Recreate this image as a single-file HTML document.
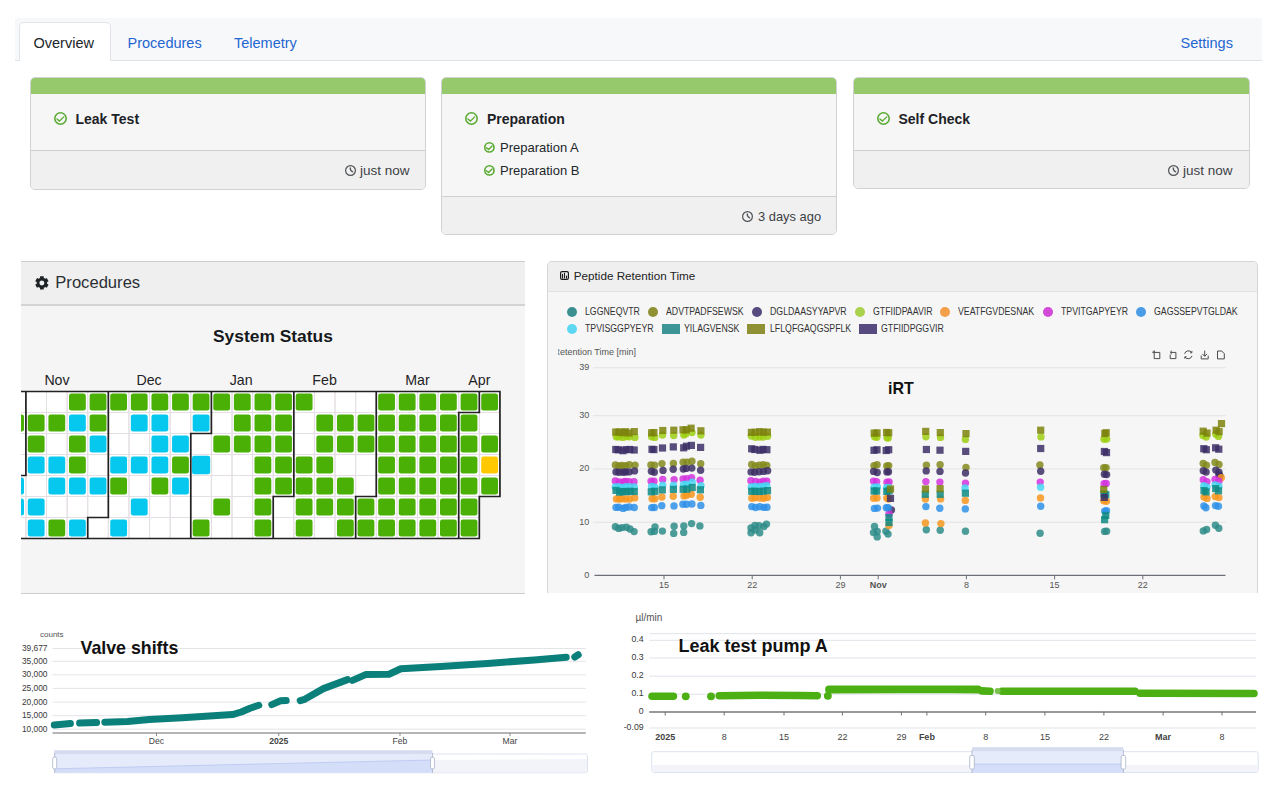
<!DOCTYPE html><html><head><meta charset="utf-8"><title>Dashboard</title><style>
*{box-sizing:border-box;margin:0;padding:0}
html,body{width:1280px;height:798px;overflow:hidden;background:#fff;font-family:"Liberation Sans",sans-serif;color:#212529}
.a{position:absolute}
.t{position:absolute;white-space:nowrap;line-height:1}
#tabs{left:15px;top:18px;width:1247px;height:43px;background:#f7f8fa;border-bottom:1px solid #dfe2e6}
#tabact{left:18.5px;top:22px;width:92px;height:39px;background:#fff;border:1px solid #e1e4e8;border-bottom:none;border-radius:5px 5px 0 0}
.tab{font-size:14.5px;color:#2366d1}
.card{position:absolute;border:1px solid #d2d2d2;border-radius:5px;background:#f6f6f6;overflow:hidden}
.card .bar{position:absolute;left:-1px;right:-1px;top:-1px;height:17px;background:#95c96c}
.card .ft{position:absolute;left:0;right:0;bottom:0;background:#f0f0f0;border-top:1px solid #cfcfcf}
.ttl{font-size:14px;font-weight:700;color:#1d2226}
.sub{font-size:13px;color:#22272b}
.tm{font-size:13.5px;color:#3d4246}
</style></head><body>
<div id="tabs" class="a"></div>
<div id="tabact" class="a"></div>
<div class="t tab" style="left:33.5px;top:35.5px;color:#212529">Overview</div>
<div class="t tab" style="left:127.5px;top:35.5px">Procedures</div>
<div class="t tab" style="left:234px;top:35.5px">Telemetry</div>
<div class="t tab" style="left:1180.5px;top:35.5px">Settings</div>
<div class="card" style="left:30px;top:77px;width:396px;height:113px"><div class="bar"></div><div class="ft" style="top:72px"></div></div>
<div class="card" style="left:441px;top:77px;width:396px;height:158px"><div class="bar"></div><div class="ft" style="top:117.5px"></div></div>
<div class="card" style="left:852.5px;top:77px;width:397px;height:112px"><div class="bar"></div><div class="ft" style="top:72px"></div></div>
<svg class="a" style="left:52.8px;top:111.0px" width="15.0" height="15.0" viewBox="-7.5 -7.5 15.0 15.0"><circle cx="0" cy="0" r="5.7" fill="none" stroke="#5aab33" stroke-width="1.6"/><path d="M-3.58 0.52 L-0.97 2.60 L3.25 -1.62" fill="none" stroke="#5aab33" stroke-width="1.36" stroke-linecap="round" stroke-linejoin="round"/></svg>
<div class="t ttl" style="left:75.5px;top:112px">Leak Test</div>
<svg class="a" style="left:343.8px;top:164.3px" width="13.0" height="13.0" viewBox="-6.5 -6.5 13.0 13.0"><circle cx="0" cy="0" r="4.9" fill="none" stroke="#505356" stroke-width="1.2"/><path d="M-0.28 -2.64 Q-0.28 0.66 2.20 1.38" fill="none" stroke="#505356" stroke-width="1.26" stroke-linecap="round"/></svg>
<div class="t tm" style="left:360px;top:164px">just now</div>
<svg class="a" style="left:464.0px;top:111.0px" width="15.0" height="15.0" viewBox="-7.5 -7.5 15.0 15.0"><circle cx="0" cy="0" r="5.7" fill="none" stroke="#5aab33" stroke-width="1.6"/><path d="M-3.58 0.52 L-0.97 2.60 L3.25 -1.62" fill="none" stroke="#5aab33" stroke-width="1.36" stroke-linecap="round" stroke-linejoin="round"/></svg>
<div class="t ttl" style="left:487px;top:112px">Preparation</div>
<svg class="a" style="left:483.20000000000005px;top:140.6px" width="12.8" height="12.8" viewBox="-6.4 -6.4 12.8 12.8"><circle cx="0" cy="0" r="4.6000000000000005" fill="none" stroke="#5aab33" stroke-width="1.6"/><path d="M-2.97 0.43 L-0.81 2.16 L2.70 -1.35" fill="none" stroke="#5aab33" stroke-width="1.36" stroke-linecap="round" stroke-linejoin="round"/></svg>
<div class="t sub" style="left:500px;top:140.5px">Preparation A</div>
<svg class="a" style="left:483.20000000000005px;top:163.6px" width="12.8" height="12.8" viewBox="-6.4 -6.4 12.8 12.8"><circle cx="0" cy="0" r="4.6000000000000005" fill="none" stroke="#5aab33" stroke-width="1.6"/><path d="M-2.97 0.43 L-0.81 2.16 L2.70 -1.35" fill="none" stroke="#5aab33" stroke-width="1.36" stroke-linecap="round" stroke-linejoin="round"/></svg>
<div class="t sub" style="left:500px;top:163.5px">Preparation B</div>
<svg class="a" style="left:741.1px;top:209.8px" width="13.0" height="13.0" viewBox="-6.5 -6.5 13.0 13.0"><circle cx="0" cy="0" r="4.9" fill="none" stroke="#505356" stroke-width="1.2"/><path d="M-0.28 -2.64 Q-0.28 0.66 2.20 1.38" fill="none" stroke="#505356" stroke-width="1.26" stroke-linecap="round"/></svg>
<div class="t tm" style="left:758px;top:209.5px;transform:scaleX(0.955);transform-origin:0 0">3 days ago</div>
<svg class="a" style="left:875.8px;top:111.0px" width="15.0" height="15.0" viewBox="-7.5 -7.5 15.0 15.0"><circle cx="0" cy="0" r="5.7" fill="none" stroke="#5aab33" stroke-width="1.6"/><path d="M-3.58 0.52 L-0.97 2.60 L3.25 -1.62" fill="none" stroke="#5aab33" stroke-width="1.36" stroke-linecap="round" stroke-linejoin="round"/></svg>
<div class="t ttl" style="left:898.5px;top:112px">Self Check</div>
<svg class="a" style="left:1166.5px;top:164.3px" width="13.0" height="13.0" viewBox="-6.5 -6.5 13.0 13.0"><circle cx="0" cy="0" r="4.9" fill="none" stroke="#505356" stroke-width="1.2"/><path d="M-0.28 -2.64 Q-0.28 0.66 2.20 1.38" fill="none" stroke="#505356" stroke-width="1.26" stroke-linecap="round"/></svg>
<div class="t tm" style="left:1183px;top:164px">just now</div>
<div class="a" style="left:21px;top:261px;width:504px;height:333px;background:#f5f5f5;border-top:1px solid #cdcdcd;border-bottom:1px solid #cdcdcd"></div>
<div class="a" style="left:21px;top:262px;width:504px;height:44px;background:#efefef;border-bottom:2px solid #d3d3d3"></div>
<svg class="a" style="left:33.7px;top:274.90000000000003px" width="15.8" height="15.8" viewBox="-7.9 -7.9 15.8 15.8"><path fill-rule="evenodd" fill="#1e2226" d="M-1.85 -4.91 L-1.84 -6.65 L1.84 -6.65 L1.85 -4.91 L2.24 -4.74 L2.62 -4.54 L2.98 -4.31 L3.33 -4.05 L4.84 -4.92 L6.68 -1.73 L5.17 -0.85 L5.23 -0.43 L5.24 -0.00 L5.23 0.43 L5.17 0.85 L6.68 1.73 L4.84 4.92 L3.33 4.05 L2.98 4.31 L2.62 4.54 L2.24 4.74 L1.85 4.91 L1.84 6.65 L-1.84 6.65 L-1.85 4.91 L-2.24 4.74 L-2.62 4.54 L-2.98 4.31 L-3.33 4.05 L-4.84 4.92 L-6.68 1.73 L-5.17 0.85 L-5.23 0.43 L-5.24 0.00 L-5.23 -0.43 L-5.17 -0.85 L-6.68 -1.73 L-4.84 -4.92 L-3.33 -4.05 L-2.98 -4.31 L-2.62 -4.54 L-2.24 -4.74Z M2.5 0 A2.5 2.5 0 1 0 -2.5 0 A2.5 2.5 0 1 0 2.5 0Z"/></svg>
<div class="t" style="left:55.3px;top:275px;font-size:16.6px;color:#2a2f34">Procedures</div>
<div class="t" style="left:213px;top:327.5px;font-size:17.4px;font-weight:700;color:#16191c">System Status</div>
<div class="t" style="left:37px;width:40px;text-align:center;top:372.5px;font-size:14.2px;color:#1f2326">Nov</div>
<div class="t" style="left:129.1px;width:40px;text-align:center;top:372.5px;font-size:14.2px;color:#1f2326">Dec</div>
<div class="t" style="left:221.2px;width:40px;text-align:center;top:372.5px;font-size:14.2px;color:#1f2326">Jan</div>
<div class="t" style="left:304.6px;width:40px;text-align:center;top:372.5px;font-size:14.2px;color:#1f2326">Feb</div>
<div class="t" style="left:397.5px;width:40px;text-align:center;top:372.5px;font-size:14.2px;color:#1f2326">Mar</div>
<div class="t" style="left:459.4px;width:40px;text-align:center;top:372.5px;font-size:14.2px;color:#1f2326">Apr</div>
<svg class="a" style="left:21px;top:385px" width="504" height="160" viewBox="21 385 504 160"><rect x="5.29" y="391.50" width="20.61" height="21.00" fill="#fff"/><rect x="5.29" y="412.50" width="20.61" height="21.00" fill="#fff"/><rect x="5.29" y="433.50" width="20.61" height="21.00" fill="#fff"/><rect x="5.29" y="454.50" width="20.61" height="21.00" fill="#fff"/><rect x="5.29" y="475.50" width="20.61" height="21.00" fill="#fff"/><rect x="5.29" y="496.50" width="20.61" height="21.00" fill="#fff"/><rect x="5.29" y="517.50" width="20.61" height="21.00" fill="#fff"/><rect x="25.90" y="391.50" width="20.61" height="21.00" fill="#fff"/><rect x="25.90" y="412.50" width="20.61" height="21.00" fill="#fff"/><rect x="25.90" y="433.50" width="20.61" height="21.00" fill="#fff"/><rect x="25.90" y="454.50" width="20.61" height="21.00" fill="#fff"/><rect x="25.90" y="475.50" width="20.61" height="21.00" fill="#fff"/><rect x="25.90" y="496.50" width="20.61" height="21.00" fill="#fff"/><rect x="25.90" y="517.50" width="20.61" height="21.00" fill="#fff"/><rect x="46.51" y="391.50" width="20.61" height="21.00" fill="#fff"/><rect x="46.51" y="412.50" width="20.61" height="21.00" fill="#fff"/><rect x="46.51" y="433.50" width="20.61" height="21.00" fill="#fff"/><rect x="46.51" y="454.50" width="20.61" height="21.00" fill="#fff"/><rect x="46.51" y="475.50" width="20.61" height="21.00" fill="#fff"/><rect x="46.51" y="496.50" width="20.61" height="21.00" fill="#fff"/><rect x="46.51" y="517.50" width="20.61" height="21.00" fill="#fff"/><rect x="67.12" y="391.50" width="20.61" height="21.00" fill="#fff"/><rect x="67.12" y="412.50" width="20.61" height="21.00" fill="#fff"/><rect x="67.12" y="433.50" width="20.61" height="21.00" fill="#fff"/><rect x="67.12" y="454.50" width="20.61" height="21.00" fill="#fff"/><rect x="67.12" y="475.50" width="20.61" height="21.00" fill="#fff"/><rect x="67.12" y="496.50" width="20.61" height="21.00" fill="#fff"/><rect x="67.12" y="517.50" width="20.61" height="21.00" fill="#fff"/><rect x="87.73" y="391.50" width="20.61" height="21.00" fill="#fff"/><rect x="87.73" y="412.50" width="20.61" height="21.00" fill="#fff"/><rect x="87.73" y="433.50" width="20.61" height="21.00" fill="#fff"/><rect x="87.73" y="454.50" width="20.61" height="21.00" fill="#fff"/><rect x="87.73" y="475.50" width="20.61" height="21.00" fill="#fff"/><rect x="87.73" y="496.50" width="20.61" height="21.00" fill="#fff"/><rect x="87.73" y="517.50" width="20.61" height="21.00" fill="#fff"/><rect x="108.34" y="391.50" width="20.61" height="21.00" fill="#fff"/><rect x="108.34" y="412.50" width="20.61" height="21.00" fill="#fff"/><rect x="108.34" y="433.50" width="20.61" height="21.00" fill="#fff"/><rect x="108.34" y="454.50" width="20.61" height="21.00" fill="#fff"/><rect x="108.34" y="475.50" width="20.61" height="21.00" fill="#fff"/><rect x="108.34" y="496.50" width="20.61" height="21.00" fill="#fff"/><rect x="108.34" y="517.50" width="20.61" height="21.00" fill="#fff"/><rect x="128.95" y="391.50" width="20.61" height="21.00" fill="#fff"/><rect x="128.95" y="412.50" width="20.61" height="21.00" fill="#fff"/><rect x="128.95" y="433.50" width="20.61" height="21.00" fill="#fff"/><rect x="128.95" y="454.50" width="20.61" height="21.00" fill="#fff"/><rect x="128.95" y="475.50" width="20.61" height="21.00" fill="#fff"/><rect x="128.95" y="496.50" width="20.61" height="21.00" fill="#fff"/><rect x="128.95" y="517.50" width="20.61" height="21.00" fill="#fff"/><rect x="149.56" y="391.50" width="20.61" height="21.00" fill="#fff"/><rect x="149.56" y="412.50" width="20.61" height="21.00" fill="#fff"/><rect x="149.56" y="433.50" width="20.61" height="21.00" fill="#fff"/><rect x="149.56" y="454.50" width="20.61" height="21.00" fill="#fff"/><rect x="149.56" y="475.50" width="20.61" height="21.00" fill="#fff"/><rect x="149.56" y="496.50" width="20.61" height="21.00" fill="#fff"/><rect x="149.56" y="517.50" width="20.61" height="21.00" fill="#fff"/><rect x="170.17" y="391.50" width="20.61" height="21.00" fill="#fff"/><rect x="170.17" y="412.50" width="20.61" height="21.00" fill="#fff"/><rect x="170.17" y="433.50" width="20.61" height="21.00" fill="#fff"/><rect x="170.17" y="454.50" width="20.61" height="21.00" fill="#fff"/><rect x="170.17" y="475.50" width="20.61" height="21.00" fill="#fff"/><rect x="170.17" y="496.50" width="20.61" height="21.00" fill="#fff"/><rect x="170.17" y="517.50" width="20.61" height="21.00" fill="#fff"/><rect x="190.78" y="391.50" width="20.61" height="21.00" fill="#fff"/><rect x="190.78" y="412.50" width="20.61" height="21.00" fill="#fff"/><rect x="190.78" y="433.50" width="20.61" height="21.00" fill="#fff"/><rect x="190.78" y="454.50" width="20.61" height="21.00" fill="#fff"/><rect x="190.78" y="475.50" width="20.61" height="21.00" fill="#fff"/><rect x="190.78" y="496.50" width="20.61" height="21.00" fill="#fff"/><rect x="190.78" y="517.50" width="20.61" height="21.00" fill="#fff"/><rect x="211.39" y="391.50" width="20.61" height="21.00" fill="#fff"/><rect x="211.39" y="412.50" width="20.61" height="21.00" fill="#fff"/><rect x="211.39" y="433.50" width="20.61" height="21.00" fill="#fff"/><rect x="211.39" y="454.50" width="20.61" height="21.00" fill="#fff"/><rect x="211.39" y="475.50" width="20.61" height="21.00" fill="#fff"/><rect x="211.39" y="496.50" width="20.61" height="21.00" fill="#fff"/><rect x="211.39" y="517.50" width="20.61" height="21.00" fill="#fff"/><rect x="232.00" y="391.50" width="20.61" height="21.00" fill="#fff"/><rect x="232.00" y="412.50" width="20.61" height="21.00" fill="#fff"/><rect x="232.00" y="433.50" width="20.61" height="21.00" fill="#fff"/><rect x="232.00" y="454.50" width="20.61" height="21.00" fill="#fff"/><rect x="232.00" y="475.50" width="20.61" height="21.00" fill="#fff"/><rect x="232.00" y="496.50" width="20.61" height="21.00" fill="#fff"/><rect x="232.00" y="517.50" width="20.61" height="21.00" fill="#fff"/><rect x="252.61" y="391.50" width="20.61" height="21.00" fill="#fff"/><rect x="252.61" y="412.50" width="20.61" height="21.00" fill="#fff"/><rect x="252.61" y="433.50" width="20.61" height="21.00" fill="#fff"/><rect x="252.61" y="454.50" width="20.61" height="21.00" fill="#fff"/><rect x="252.61" y="475.50" width="20.61" height="21.00" fill="#fff"/><rect x="252.61" y="496.50" width="20.61" height="21.00" fill="#fff"/><rect x="252.61" y="517.50" width="20.61" height="21.00" fill="#fff"/><rect x="273.22" y="391.50" width="20.61" height="21.00" fill="#fff"/><rect x="273.22" y="412.50" width="20.61" height="21.00" fill="#fff"/><rect x="273.22" y="433.50" width="20.61" height="21.00" fill="#fff"/><rect x="273.22" y="454.50" width="20.61" height="21.00" fill="#fff"/><rect x="273.22" y="475.50" width="20.61" height="21.00" fill="#fff"/><rect x="273.22" y="496.50" width="20.61" height="21.00" fill="#fff"/><rect x="273.22" y="517.50" width="20.61" height="21.00" fill="#fff"/><rect x="293.83" y="391.50" width="20.61" height="21.00" fill="#fff"/><rect x="293.83" y="412.50" width="20.61" height="21.00" fill="#fff"/><rect x="293.83" y="433.50" width="20.61" height="21.00" fill="#fff"/><rect x="293.83" y="454.50" width="20.61" height="21.00" fill="#fff"/><rect x="293.83" y="475.50" width="20.61" height="21.00" fill="#fff"/><rect x="293.83" y="496.50" width="20.61" height="21.00" fill="#fff"/><rect x="293.83" y="517.50" width="20.61" height="21.00" fill="#fff"/><rect x="314.44" y="391.50" width="20.61" height="21.00" fill="#fff"/><rect x="314.44" y="412.50" width="20.61" height="21.00" fill="#fff"/><rect x="314.44" y="433.50" width="20.61" height="21.00" fill="#fff"/><rect x="314.44" y="454.50" width="20.61" height="21.00" fill="#fff"/><rect x="314.44" y="475.50" width="20.61" height="21.00" fill="#fff"/><rect x="314.44" y="496.50" width="20.61" height="21.00" fill="#fff"/><rect x="314.44" y="517.50" width="20.61" height="21.00" fill="#fff"/><rect x="335.05" y="391.50" width="20.61" height="21.00" fill="#fff"/><rect x="335.05" y="412.50" width="20.61" height="21.00" fill="#fff"/><rect x="335.05" y="433.50" width="20.61" height="21.00" fill="#fff"/><rect x="335.05" y="454.50" width="20.61" height="21.00" fill="#fff"/><rect x="335.05" y="475.50" width="20.61" height="21.00" fill="#fff"/><rect x="335.05" y="496.50" width="20.61" height="21.00" fill="#fff"/><rect x="335.05" y="517.50" width="20.61" height="21.00" fill="#fff"/><rect x="355.66" y="391.50" width="20.61" height="21.00" fill="#fff"/><rect x="355.66" y="412.50" width="20.61" height="21.00" fill="#fff"/><rect x="355.66" y="433.50" width="20.61" height="21.00" fill="#fff"/><rect x="355.66" y="454.50" width="20.61" height="21.00" fill="#fff"/><rect x="355.66" y="475.50" width="20.61" height="21.00" fill="#fff"/><rect x="355.66" y="496.50" width="20.61" height="21.00" fill="#fff"/><rect x="355.66" y="517.50" width="20.61" height="21.00" fill="#fff"/><rect x="376.27" y="391.50" width="20.61" height="21.00" fill="#fff"/><rect x="376.27" y="412.50" width="20.61" height="21.00" fill="#fff"/><rect x="376.27" y="433.50" width="20.61" height="21.00" fill="#fff"/><rect x="376.27" y="454.50" width="20.61" height="21.00" fill="#fff"/><rect x="376.27" y="475.50" width="20.61" height="21.00" fill="#fff"/><rect x="376.27" y="496.50" width="20.61" height="21.00" fill="#fff"/><rect x="376.27" y="517.50" width="20.61" height="21.00" fill="#fff"/><rect x="396.88" y="391.50" width="20.61" height="21.00" fill="#fff"/><rect x="396.88" y="412.50" width="20.61" height="21.00" fill="#fff"/><rect x="396.88" y="433.50" width="20.61" height="21.00" fill="#fff"/><rect x="396.88" y="454.50" width="20.61" height="21.00" fill="#fff"/><rect x="396.88" y="475.50" width="20.61" height="21.00" fill="#fff"/><rect x="396.88" y="496.50" width="20.61" height="21.00" fill="#fff"/><rect x="396.88" y="517.50" width="20.61" height="21.00" fill="#fff"/><rect x="417.49" y="391.50" width="20.61" height="21.00" fill="#fff"/><rect x="417.49" y="412.50" width="20.61" height="21.00" fill="#fff"/><rect x="417.49" y="433.50" width="20.61" height="21.00" fill="#fff"/><rect x="417.49" y="454.50" width="20.61" height="21.00" fill="#fff"/><rect x="417.49" y="475.50" width="20.61" height="21.00" fill="#fff"/><rect x="417.49" y="496.50" width="20.61" height="21.00" fill="#fff"/><rect x="417.49" y="517.50" width="20.61" height="21.00" fill="#fff"/><rect x="438.10" y="391.50" width="20.61" height="21.00" fill="#fff"/><rect x="438.10" y="412.50" width="20.61" height="21.00" fill="#fff"/><rect x="438.10" y="433.50" width="20.61" height="21.00" fill="#fff"/><rect x="438.10" y="454.50" width="20.61" height="21.00" fill="#fff"/><rect x="438.10" y="475.50" width="20.61" height="21.00" fill="#fff"/><rect x="438.10" y="496.50" width="20.61" height="21.00" fill="#fff"/><rect x="438.10" y="517.50" width="20.61" height="21.00" fill="#fff"/><rect x="458.71" y="391.50" width="20.61" height="21.00" fill="#fff"/><rect x="458.71" y="412.50" width="20.61" height="21.00" fill="#fff"/><rect x="458.71" y="433.50" width="20.61" height="21.00" fill="#fff"/><rect x="458.71" y="454.50" width="20.61" height="21.00" fill="#fff"/><rect x="458.71" y="475.50" width="20.61" height="21.00" fill="#fff"/><rect x="458.71" y="496.50" width="20.61" height="21.00" fill="#fff"/><rect x="458.71" y="517.50" width="20.61" height="21.00" fill="#fff"/><rect x="479.32" y="391.50" width="20.61" height="21.00" fill="#fff"/><rect x="479.32" y="412.50" width="20.61" height="21.00" fill="#fff"/><rect x="479.32" y="433.50" width="20.61" height="21.00" fill="#fff"/><rect x="479.32" y="454.50" width="20.61" height="21.00" fill="#fff"/><rect x="479.32" y="475.50" width="20.61" height="21.00" fill="#fff"/><rect x="5.29" y="391.50" width="20.61" height="21.00" fill="none" stroke="#e4dfe4" stroke-width="1"/><rect x="5.29" y="412.50" width="20.61" height="21.00" fill="none" stroke="#e4dfe4" stroke-width="1"/><rect x="5.29" y="433.50" width="20.61" height="21.00" fill="none" stroke="#e4dfe4" stroke-width="1"/><rect x="5.29" y="454.50" width="20.61" height="21.00" fill="none" stroke="#e4dfe4" stroke-width="1"/><rect x="5.29" y="475.50" width="20.61" height="21.00" fill="none" stroke="#e4dfe4" stroke-width="1"/><rect x="5.29" y="496.50" width="20.61" height="21.00" fill="none" stroke="#e4dfe4" stroke-width="1"/><rect x="5.29" y="517.50" width="20.61" height="21.00" fill="none" stroke="#e4dfe4" stroke-width="1"/><rect x="25.90" y="391.50" width="20.61" height="21.00" fill="none" stroke="#e4dfe4" stroke-width="1"/><rect x="25.90" y="412.50" width="20.61" height="21.00" fill="none" stroke="#e4dfe4" stroke-width="1"/><rect x="25.90" y="433.50" width="20.61" height="21.00" fill="none" stroke="#e4dfe4" stroke-width="1"/><rect x="25.90" y="454.50" width="20.61" height="21.00" fill="none" stroke="#e4dfe4" stroke-width="1"/><rect x="25.90" y="475.50" width="20.61" height="21.00" fill="none" stroke="#e4dfe4" stroke-width="1"/><rect x="25.90" y="496.50" width="20.61" height="21.00" fill="none" stroke="#e4dfe4" stroke-width="1"/><rect x="25.90" y="517.50" width="20.61" height="21.00" fill="none" stroke="#e4dfe4" stroke-width="1"/><rect x="46.51" y="391.50" width="20.61" height="21.00" fill="none" stroke="#e4dfe4" stroke-width="1"/><rect x="46.51" y="412.50" width="20.61" height="21.00" fill="none" stroke="#e4dfe4" stroke-width="1"/><rect x="46.51" y="433.50" width="20.61" height="21.00" fill="none" stroke="#e4dfe4" stroke-width="1"/><rect x="46.51" y="454.50" width="20.61" height="21.00" fill="none" stroke="#e4dfe4" stroke-width="1"/><rect x="46.51" y="475.50" width="20.61" height="21.00" fill="none" stroke="#e4dfe4" stroke-width="1"/><rect x="46.51" y="496.50" width="20.61" height="21.00" fill="none" stroke="#e4dfe4" stroke-width="1"/><rect x="46.51" y="517.50" width="20.61" height="21.00" fill="none" stroke="#e4dfe4" stroke-width="1"/><rect x="67.12" y="391.50" width="20.61" height="21.00" fill="none" stroke="#e4dfe4" stroke-width="1"/><rect x="67.12" y="412.50" width="20.61" height="21.00" fill="none" stroke="#e4dfe4" stroke-width="1"/><rect x="67.12" y="433.50" width="20.61" height="21.00" fill="none" stroke="#e4dfe4" stroke-width="1"/><rect x="67.12" y="454.50" width="20.61" height="21.00" fill="none" stroke="#e4dfe4" stroke-width="1"/><rect x="67.12" y="475.50" width="20.61" height="21.00" fill="none" stroke="#e4dfe4" stroke-width="1"/><rect x="67.12" y="496.50" width="20.61" height="21.00" fill="none" stroke="#e4dfe4" stroke-width="1"/><rect x="67.12" y="517.50" width="20.61" height="21.00" fill="none" stroke="#e4dfe4" stroke-width="1"/><rect x="87.73" y="391.50" width="20.61" height="21.00" fill="none" stroke="#e4dfe4" stroke-width="1"/><rect x="87.73" y="412.50" width="20.61" height="21.00" fill="none" stroke="#e4dfe4" stroke-width="1"/><rect x="87.73" y="433.50" width="20.61" height="21.00" fill="none" stroke="#e4dfe4" stroke-width="1"/><rect x="87.73" y="454.50" width="20.61" height="21.00" fill="none" stroke="#e4dfe4" stroke-width="1"/><rect x="87.73" y="475.50" width="20.61" height="21.00" fill="none" stroke="#e4dfe4" stroke-width="1"/><rect x="87.73" y="496.50" width="20.61" height="21.00" fill="none" stroke="#e4dfe4" stroke-width="1"/><rect x="87.73" y="517.50" width="20.61" height="21.00" fill="none" stroke="#e4dfe4" stroke-width="1"/><rect x="108.34" y="391.50" width="20.61" height="21.00" fill="none" stroke="#e4dfe4" stroke-width="1"/><rect x="108.34" y="412.50" width="20.61" height="21.00" fill="none" stroke="#e4dfe4" stroke-width="1"/><rect x="108.34" y="433.50" width="20.61" height="21.00" fill="none" stroke="#e4dfe4" stroke-width="1"/><rect x="108.34" y="454.50" width="20.61" height="21.00" fill="none" stroke="#e4dfe4" stroke-width="1"/><rect x="108.34" y="475.50" width="20.61" height="21.00" fill="none" stroke="#e4dfe4" stroke-width="1"/><rect x="108.34" y="496.50" width="20.61" height="21.00" fill="none" stroke="#e4dfe4" stroke-width="1"/><rect x="108.34" y="517.50" width="20.61" height="21.00" fill="none" stroke="#e4dfe4" stroke-width="1"/><rect x="128.95" y="391.50" width="20.61" height="21.00" fill="none" stroke="#e4dfe4" stroke-width="1"/><rect x="128.95" y="412.50" width="20.61" height="21.00" fill="none" stroke="#e4dfe4" stroke-width="1"/><rect x="128.95" y="433.50" width="20.61" height="21.00" fill="none" stroke="#e4dfe4" stroke-width="1"/><rect x="128.95" y="454.50" width="20.61" height="21.00" fill="none" stroke="#e4dfe4" stroke-width="1"/><rect x="128.95" y="475.50" width="20.61" height="21.00" fill="none" stroke="#e4dfe4" stroke-width="1"/><rect x="128.95" y="496.50" width="20.61" height="21.00" fill="none" stroke="#e4dfe4" stroke-width="1"/><rect x="128.95" y="517.50" width="20.61" height="21.00" fill="none" stroke="#e4dfe4" stroke-width="1"/><rect x="149.56" y="391.50" width="20.61" height="21.00" fill="none" stroke="#e4dfe4" stroke-width="1"/><rect x="149.56" y="412.50" width="20.61" height="21.00" fill="none" stroke="#e4dfe4" stroke-width="1"/><rect x="149.56" y="433.50" width="20.61" height="21.00" fill="none" stroke="#e4dfe4" stroke-width="1"/><rect x="149.56" y="454.50" width="20.61" height="21.00" fill="none" stroke="#e4dfe4" stroke-width="1"/><rect x="149.56" y="475.50" width="20.61" height="21.00" fill="none" stroke="#e4dfe4" stroke-width="1"/><rect x="149.56" y="496.50" width="20.61" height="21.00" fill="none" stroke="#e4dfe4" stroke-width="1"/><rect x="149.56" y="517.50" width="20.61" height="21.00" fill="none" stroke="#e4dfe4" stroke-width="1"/><rect x="170.17" y="391.50" width="20.61" height="21.00" fill="none" stroke="#e4dfe4" stroke-width="1"/><rect x="170.17" y="412.50" width="20.61" height="21.00" fill="none" stroke="#e4dfe4" stroke-width="1"/><rect x="170.17" y="433.50" width="20.61" height="21.00" fill="none" stroke="#e4dfe4" stroke-width="1"/><rect x="170.17" y="454.50" width="20.61" height="21.00" fill="none" stroke="#e4dfe4" stroke-width="1"/><rect x="170.17" y="475.50" width="20.61" height="21.00" fill="none" stroke="#e4dfe4" stroke-width="1"/><rect x="170.17" y="496.50" width="20.61" height="21.00" fill="none" stroke="#e4dfe4" stroke-width="1"/><rect x="170.17" y="517.50" width="20.61" height="21.00" fill="none" stroke="#e4dfe4" stroke-width="1"/><rect x="190.78" y="391.50" width="20.61" height="21.00" fill="none" stroke="#e4dfe4" stroke-width="1"/><rect x="190.78" y="412.50" width="20.61" height="21.00" fill="none" stroke="#e4dfe4" stroke-width="1"/><rect x="190.78" y="433.50" width="20.61" height="21.00" fill="none" stroke="#e4dfe4" stroke-width="1"/><rect x="190.78" y="454.50" width="20.61" height="21.00" fill="none" stroke="#e4dfe4" stroke-width="1"/><rect x="190.78" y="475.50" width="20.61" height="21.00" fill="none" stroke="#e4dfe4" stroke-width="1"/><rect x="190.78" y="496.50" width="20.61" height="21.00" fill="none" stroke="#e4dfe4" stroke-width="1"/><rect x="190.78" y="517.50" width="20.61" height="21.00" fill="none" stroke="#e4dfe4" stroke-width="1"/><rect x="211.39" y="391.50" width="20.61" height="21.00" fill="none" stroke="#e4dfe4" stroke-width="1"/><rect x="211.39" y="412.50" width="20.61" height="21.00" fill="none" stroke="#e4dfe4" stroke-width="1"/><rect x="211.39" y="433.50" width="20.61" height="21.00" fill="none" stroke="#e4dfe4" stroke-width="1"/><rect x="211.39" y="454.50" width="20.61" height="21.00" fill="none" stroke="#e4dfe4" stroke-width="1"/><rect x="211.39" y="475.50" width="20.61" height="21.00" fill="none" stroke="#e4dfe4" stroke-width="1"/><rect x="211.39" y="496.50" width="20.61" height="21.00" fill="none" stroke="#e4dfe4" stroke-width="1"/><rect x="211.39" y="517.50" width="20.61" height="21.00" fill="none" stroke="#e4dfe4" stroke-width="1"/><rect x="232.00" y="391.50" width="20.61" height="21.00" fill="none" stroke="#e4dfe4" stroke-width="1"/><rect x="232.00" y="412.50" width="20.61" height="21.00" fill="none" stroke="#e4dfe4" stroke-width="1"/><rect x="232.00" y="433.50" width="20.61" height="21.00" fill="none" stroke="#e4dfe4" stroke-width="1"/><rect x="232.00" y="454.50" width="20.61" height="21.00" fill="none" stroke="#e4dfe4" stroke-width="1"/><rect x="232.00" y="475.50" width="20.61" height="21.00" fill="none" stroke="#e4dfe4" stroke-width="1"/><rect x="232.00" y="496.50" width="20.61" height="21.00" fill="none" stroke="#e4dfe4" stroke-width="1"/><rect x="232.00" y="517.50" width="20.61" height="21.00" fill="none" stroke="#e4dfe4" stroke-width="1"/><rect x="252.61" y="391.50" width="20.61" height="21.00" fill="none" stroke="#e4dfe4" stroke-width="1"/><rect x="252.61" y="412.50" width="20.61" height="21.00" fill="none" stroke="#e4dfe4" stroke-width="1"/><rect x="252.61" y="433.50" width="20.61" height="21.00" fill="none" stroke="#e4dfe4" stroke-width="1"/><rect x="252.61" y="454.50" width="20.61" height="21.00" fill="none" stroke="#e4dfe4" stroke-width="1"/><rect x="252.61" y="475.50" width="20.61" height="21.00" fill="none" stroke="#e4dfe4" stroke-width="1"/><rect x="252.61" y="496.50" width="20.61" height="21.00" fill="none" stroke="#e4dfe4" stroke-width="1"/><rect x="252.61" y="517.50" width="20.61" height="21.00" fill="none" stroke="#e4dfe4" stroke-width="1"/><rect x="273.22" y="391.50" width="20.61" height="21.00" fill="none" stroke="#e4dfe4" stroke-width="1"/><rect x="273.22" y="412.50" width="20.61" height="21.00" fill="none" stroke="#e4dfe4" stroke-width="1"/><rect x="273.22" y="433.50" width="20.61" height="21.00" fill="none" stroke="#e4dfe4" stroke-width="1"/><rect x="273.22" y="454.50" width="20.61" height="21.00" fill="none" stroke="#e4dfe4" stroke-width="1"/><rect x="273.22" y="475.50" width="20.61" height="21.00" fill="none" stroke="#e4dfe4" stroke-width="1"/><rect x="273.22" y="496.50" width="20.61" height="21.00" fill="none" stroke="#e4dfe4" stroke-width="1"/><rect x="273.22" y="517.50" width="20.61" height="21.00" fill="none" stroke="#e4dfe4" stroke-width="1"/><rect x="293.83" y="391.50" width="20.61" height="21.00" fill="none" stroke="#e4dfe4" stroke-width="1"/><rect x="293.83" y="412.50" width="20.61" height="21.00" fill="none" stroke="#e4dfe4" stroke-width="1"/><rect x="293.83" y="433.50" width="20.61" height="21.00" fill="none" stroke="#e4dfe4" stroke-width="1"/><rect x="293.83" y="454.50" width="20.61" height="21.00" fill="none" stroke="#e4dfe4" stroke-width="1"/><rect x="293.83" y="475.50" width="20.61" height="21.00" fill="none" stroke="#e4dfe4" stroke-width="1"/><rect x="293.83" y="496.50" width="20.61" height="21.00" fill="none" stroke="#e4dfe4" stroke-width="1"/><rect x="293.83" y="517.50" width="20.61" height="21.00" fill="none" stroke="#e4dfe4" stroke-width="1"/><rect x="314.44" y="391.50" width="20.61" height="21.00" fill="none" stroke="#e4dfe4" stroke-width="1"/><rect x="314.44" y="412.50" width="20.61" height="21.00" fill="none" stroke="#e4dfe4" stroke-width="1"/><rect x="314.44" y="433.50" width="20.61" height="21.00" fill="none" stroke="#e4dfe4" stroke-width="1"/><rect x="314.44" y="454.50" width="20.61" height="21.00" fill="none" stroke="#e4dfe4" stroke-width="1"/><rect x="314.44" y="475.50" width="20.61" height="21.00" fill="none" stroke="#e4dfe4" stroke-width="1"/><rect x="314.44" y="496.50" width="20.61" height="21.00" fill="none" stroke="#e4dfe4" stroke-width="1"/><rect x="314.44" y="517.50" width="20.61" height="21.00" fill="none" stroke="#e4dfe4" stroke-width="1"/><rect x="335.05" y="391.50" width="20.61" height="21.00" fill="none" stroke="#e4dfe4" stroke-width="1"/><rect x="335.05" y="412.50" width="20.61" height="21.00" fill="none" stroke="#e4dfe4" stroke-width="1"/><rect x="335.05" y="433.50" width="20.61" height="21.00" fill="none" stroke="#e4dfe4" stroke-width="1"/><rect x="335.05" y="454.50" width="20.61" height="21.00" fill="none" stroke="#e4dfe4" stroke-width="1"/><rect x="335.05" y="475.50" width="20.61" height="21.00" fill="none" stroke="#e4dfe4" stroke-width="1"/><rect x="335.05" y="496.50" width="20.61" height="21.00" fill="none" stroke="#e4dfe4" stroke-width="1"/><rect x="335.05" y="517.50" width="20.61" height="21.00" fill="none" stroke="#e4dfe4" stroke-width="1"/><rect x="355.66" y="391.50" width="20.61" height="21.00" fill="none" stroke="#e4dfe4" stroke-width="1"/><rect x="355.66" y="412.50" width="20.61" height="21.00" fill="none" stroke="#e4dfe4" stroke-width="1"/><rect x="355.66" y="433.50" width="20.61" height="21.00" fill="none" stroke="#e4dfe4" stroke-width="1"/><rect x="355.66" y="454.50" width="20.61" height="21.00" fill="none" stroke="#e4dfe4" stroke-width="1"/><rect x="355.66" y="475.50" width="20.61" height="21.00" fill="none" stroke="#e4dfe4" stroke-width="1"/><rect x="355.66" y="496.50" width="20.61" height="21.00" fill="none" stroke="#e4dfe4" stroke-width="1"/><rect x="355.66" y="517.50" width="20.61" height="21.00" fill="none" stroke="#e4dfe4" stroke-width="1"/><rect x="376.27" y="391.50" width="20.61" height="21.00" fill="none" stroke="#e4dfe4" stroke-width="1"/><rect x="376.27" y="412.50" width="20.61" height="21.00" fill="none" stroke="#e4dfe4" stroke-width="1"/><rect x="376.27" y="433.50" width="20.61" height="21.00" fill="none" stroke="#e4dfe4" stroke-width="1"/><rect x="376.27" y="454.50" width="20.61" height="21.00" fill="none" stroke="#e4dfe4" stroke-width="1"/><rect x="376.27" y="475.50" width="20.61" height="21.00" fill="none" stroke="#e4dfe4" stroke-width="1"/><rect x="376.27" y="496.50" width="20.61" height="21.00" fill="none" stroke="#e4dfe4" stroke-width="1"/><rect x="376.27" y="517.50" width="20.61" height="21.00" fill="none" stroke="#e4dfe4" stroke-width="1"/><rect x="396.88" y="391.50" width="20.61" height="21.00" fill="none" stroke="#e4dfe4" stroke-width="1"/><rect x="396.88" y="412.50" width="20.61" height="21.00" fill="none" stroke="#e4dfe4" stroke-width="1"/><rect x="396.88" y="433.50" width="20.61" height="21.00" fill="none" stroke="#e4dfe4" stroke-width="1"/><rect x="396.88" y="454.50" width="20.61" height="21.00" fill="none" stroke="#e4dfe4" stroke-width="1"/><rect x="396.88" y="475.50" width="20.61" height="21.00" fill="none" stroke="#e4dfe4" stroke-width="1"/><rect x="396.88" y="496.50" width="20.61" height="21.00" fill="none" stroke="#e4dfe4" stroke-width="1"/><rect x="396.88" y="517.50" width="20.61" height="21.00" fill="none" stroke="#e4dfe4" stroke-width="1"/><rect x="417.49" y="391.50" width="20.61" height="21.00" fill="none" stroke="#e4dfe4" stroke-width="1"/><rect x="417.49" y="412.50" width="20.61" height="21.00" fill="none" stroke="#e4dfe4" stroke-width="1"/><rect x="417.49" y="433.50" width="20.61" height="21.00" fill="none" stroke="#e4dfe4" stroke-width="1"/><rect x="417.49" y="454.50" width="20.61" height="21.00" fill="none" stroke="#e4dfe4" stroke-width="1"/><rect x="417.49" y="475.50" width="20.61" height="21.00" fill="none" stroke="#e4dfe4" stroke-width="1"/><rect x="417.49" y="496.50" width="20.61" height="21.00" fill="none" stroke="#e4dfe4" stroke-width="1"/><rect x="417.49" y="517.50" width="20.61" height="21.00" fill="none" stroke="#e4dfe4" stroke-width="1"/><rect x="438.10" y="391.50" width="20.61" height="21.00" fill="none" stroke="#e4dfe4" stroke-width="1"/><rect x="438.10" y="412.50" width="20.61" height="21.00" fill="none" stroke="#e4dfe4" stroke-width="1"/><rect x="438.10" y="433.50" width="20.61" height="21.00" fill="none" stroke="#e4dfe4" stroke-width="1"/><rect x="438.10" y="454.50" width="20.61" height="21.00" fill="none" stroke="#e4dfe4" stroke-width="1"/><rect x="438.10" y="475.50" width="20.61" height="21.00" fill="none" stroke="#e4dfe4" stroke-width="1"/><rect x="438.10" y="496.50" width="20.61" height="21.00" fill="none" stroke="#e4dfe4" stroke-width="1"/><rect x="438.10" y="517.50" width="20.61" height="21.00" fill="none" stroke="#e4dfe4" stroke-width="1"/><rect x="458.71" y="391.50" width="20.61" height="21.00" fill="none" stroke="#e4dfe4" stroke-width="1"/><rect x="458.71" y="412.50" width="20.61" height="21.00" fill="none" stroke="#e4dfe4" stroke-width="1"/><rect x="458.71" y="433.50" width="20.61" height="21.00" fill="none" stroke="#e4dfe4" stroke-width="1"/><rect x="458.71" y="454.50" width="20.61" height="21.00" fill="none" stroke="#e4dfe4" stroke-width="1"/><rect x="458.71" y="475.50" width="20.61" height="21.00" fill="none" stroke="#e4dfe4" stroke-width="1"/><rect x="458.71" y="496.50" width="20.61" height="21.00" fill="none" stroke="#e4dfe4" stroke-width="1"/><rect x="458.71" y="517.50" width="20.61" height="21.00" fill="none" stroke="#e4dfe4" stroke-width="1"/><rect x="479.32" y="391.50" width="20.61" height="21.00" fill="none" stroke="#e4dfe4" stroke-width="1"/><rect x="479.32" y="412.50" width="20.61" height="21.00" fill="none" stroke="#e4dfe4" stroke-width="1"/><rect x="479.32" y="433.50" width="20.61" height="21.00" fill="none" stroke="#e4dfe4" stroke-width="1"/><rect x="479.32" y="454.50" width="20.61" height="21.00" fill="none" stroke="#e4dfe4" stroke-width="1"/><rect x="479.32" y="475.50" width="20.61" height="21.00" fill="none" stroke="#e4dfe4" stroke-width="1"/><rect x="7.19" y="414.50" width="16.81" height="17.00" rx="2.3" fill="#4bb006"/><rect x="7.19" y="477.50" width="16.81" height="17.00" rx="2.3" fill="#06c8ee"/><rect x="7.19" y="498.50" width="16.81" height="17.00" rx="2.3" fill="#06c8ee"/><rect x="27.80" y="414.50" width="16.81" height="17.00" rx="2.3" fill="#4bb006"/><rect x="27.80" y="435.50" width="16.81" height="17.00" rx="2.3" fill="#4bb006"/><rect x="27.80" y="456.50" width="16.81" height="17.00" rx="2.3" fill="#06c8ee"/><rect x="27.80" y="498.50" width="16.81" height="17.00" rx="2.3" fill="#06c8ee"/><rect x="27.80" y="519.50" width="16.81" height="17.00" rx="2.3" fill="#06c8ee"/><rect x="48.41" y="414.50" width="16.81" height="17.00" rx="2.3" fill="#4bb006"/><rect x="48.41" y="456.50" width="16.81" height="17.00" rx="2.3" fill="#06c8ee"/><rect x="48.41" y="477.50" width="16.81" height="17.00" rx="2.3" fill="#06c8ee"/><rect x="48.41" y="519.50" width="16.81" height="17.00" rx="2.3" fill="#4bb006"/><rect x="69.02" y="393.50" width="16.81" height="17.00" rx="2.3" fill="#4bb006"/><rect x="69.02" y="414.50" width="16.81" height="17.00" rx="2.3" fill="#06c8ee"/><rect x="69.02" y="435.50" width="16.81" height="17.00" rx="2.3" fill="#4bb006"/><rect x="69.02" y="456.50" width="16.81" height="17.00" rx="2.3" fill="#4bb006"/><rect x="69.02" y="477.50" width="16.81" height="17.00" rx="2.3" fill="#06c8ee"/><rect x="69.02" y="519.50" width="16.81" height="17.00" rx="2.3" fill="#06c8ee"/><rect x="89.63" y="393.50" width="16.81" height="17.00" rx="2.3" fill="#4bb006"/><rect x="89.63" y="414.50" width="16.81" height="17.00" rx="2.3" fill="#4bb006"/><rect x="89.63" y="435.50" width="16.81" height="17.00" rx="2.3" fill="#06c8ee"/><rect x="89.63" y="477.50" width="16.81" height="17.00" rx="2.3" fill="#06c8ee"/><rect x="110.24" y="393.50" width="16.81" height="17.00" rx="2.3" fill="#4bb006"/><rect x="110.24" y="456.50" width="16.81" height="17.00" rx="2.3" fill="#06c8ee"/><rect x="110.24" y="477.50" width="16.81" height="17.00" rx="2.3" fill="#4bb006"/><rect x="110.24" y="519.50" width="16.81" height="17.00" rx="2.3" fill="#06c8ee"/><rect x="130.85" y="393.50" width="16.81" height="17.00" rx="2.3" fill="#4bb006"/><rect x="130.85" y="414.50" width="16.81" height="17.00" rx="2.3" fill="#06c8ee"/><rect x="130.85" y="456.50" width="16.81" height="17.00" rx="2.3" fill="#06c8ee"/><rect x="130.85" y="498.50" width="16.81" height="17.00" rx="2.3" fill="#06c8ee"/><rect x="151.46" y="393.50" width="16.81" height="17.00" rx="2.3" fill="#4bb006"/><rect x="151.46" y="414.50" width="16.81" height="17.00" rx="2.3" fill="#06c8ee"/><rect x="151.46" y="435.50" width="16.81" height="17.00" rx="2.3" fill="#06c8ee"/><rect x="151.46" y="456.50" width="16.81" height="17.00" rx="2.3" fill="#06c8ee"/><rect x="151.46" y="477.50" width="16.81" height="17.00" rx="2.3" fill="#4bb006"/><rect x="172.07" y="393.50" width="16.81" height="17.00" rx="2.3" fill="#4bb006"/><rect x="172.07" y="435.50" width="16.81" height="17.00" rx="2.3" fill="#06c8ee"/><rect x="172.07" y="456.50" width="16.81" height="17.00" rx="2.3" fill="#4bb006"/><rect x="172.07" y="477.50" width="16.81" height="17.00" rx="2.3" fill="#06c8ee"/><rect x="192.68" y="393.50" width="16.81" height="17.00" rx="2.3" fill="#4bb006"/><rect x="192.68" y="414.50" width="16.81" height="17.00" rx="2.3" fill="#06c8ee"/><rect x="191.98" y="455.80" width="18.21" height="18.40" rx="2.3" fill="#06c8ee"/><rect x="192.68" y="519.50" width="16.81" height="17.00" rx="2.3" fill="#4bb006"/><rect x="213.29" y="393.50" width="16.81" height="17.00" rx="2.3" fill="#4bb006"/><rect x="213.29" y="435.50" width="16.81" height="17.00" rx="2.3" fill="#4bb006"/><rect x="213.29" y="498.50" width="16.81" height="17.00" rx="2.3" fill="#4bb006"/><rect x="233.90" y="393.50" width="16.81" height="17.00" rx="2.3" fill="#4bb006"/><rect x="233.90" y="414.50" width="16.81" height="17.00" rx="2.3" fill="#4bb006"/><rect x="233.90" y="435.50" width="16.81" height="17.00" rx="2.3" fill="#4bb006"/><rect x="254.51" y="393.50" width="16.81" height="17.00" rx="2.3" fill="#4bb006"/><rect x="254.51" y="414.50" width="16.81" height="17.00" rx="2.3" fill="#4bb006"/><rect x="254.51" y="435.50" width="16.81" height="17.00" rx="2.3" fill="#4bb006"/><rect x="254.51" y="456.50" width="16.81" height="17.00" rx="2.3" fill="#4bb006"/><rect x="254.51" y="477.50" width="16.81" height="17.00" rx="2.3" fill="#4bb006"/><rect x="254.51" y="498.50" width="16.81" height="17.00" rx="2.3" fill="#4bb006"/><rect x="254.51" y="519.50" width="16.81" height="17.00" rx="2.3" fill="#4bb006"/><rect x="275.12" y="393.50" width="16.81" height="17.00" rx="2.3" fill="#4bb006"/><rect x="275.12" y="414.50" width="16.81" height="17.00" rx="2.3" fill="#4bb006"/><rect x="275.12" y="435.50" width="16.81" height="17.00" rx="2.3" fill="#4bb006"/><rect x="275.12" y="456.50" width="16.81" height="17.00" rx="2.3" fill="#4bb006"/><rect x="275.12" y="477.50" width="16.81" height="17.00" rx="2.3" fill="#4bb006"/><rect x="295.73" y="393.50" width="16.81" height="17.00" rx="2.3" fill="#4bb006"/><rect x="295.73" y="456.50" width="16.81" height="17.00" rx="2.3" fill="#4bb006"/><rect x="295.73" y="477.50" width="16.81" height="17.00" rx="2.3" fill="#4bb006"/><rect x="295.73" y="498.50" width="16.81" height="17.00" rx="2.3" fill="#4bb006"/><rect x="295.73" y="519.50" width="16.81" height="17.00" rx="2.3" fill="#4bb006"/><rect x="316.34" y="414.50" width="16.81" height="17.00" rx="2.3" fill="#4bb006"/><rect x="316.34" y="435.50" width="16.81" height="17.00" rx="2.3" fill="#4bb006"/><rect x="316.34" y="456.50" width="16.81" height="17.00" rx="2.3" fill="#4bb006"/><rect x="316.34" y="477.50" width="16.81" height="17.00" rx="2.3" fill="#4bb006"/><rect x="316.34" y="498.50" width="16.81" height="17.00" rx="2.3" fill="#4bb006"/><rect x="336.95" y="414.50" width="16.81" height="17.00" rx="2.3" fill="#4bb006"/><rect x="336.95" y="435.50" width="16.81" height="17.00" rx="2.3" fill="#4bb006"/><rect x="336.95" y="477.50" width="16.81" height="17.00" rx="2.3" fill="#4bb006"/><rect x="336.95" y="498.50" width="16.81" height="17.00" rx="2.3" fill="#4bb006"/><rect x="336.95" y="519.50" width="16.81" height="17.00" rx="2.3" fill="#4bb006"/><rect x="357.56" y="414.50" width="16.81" height="17.00" rx="2.3" fill="#4bb006"/><rect x="357.56" y="435.50" width="16.81" height="17.00" rx="2.3" fill="#4bb006"/><rect x="357.56" y="498.50" width="16.81" height="17.00" rx="2.3" fill="#4bb006"/><rect x="357.56" y="519.50" width="16.81" height="17.00" rx="2.3" fill="#4bb006"/><rect x="378.17" y="393.50" width="16.81" height="17.00" rx="2.3" fill="#4bb006"/><rect x="378.17" y="414.50" width="16.81" height="17.00" rx="2.3" fill="#4bb006"/><rect x="378.17" y="435.50" width="16.81" height="17.00" rx="2.3" fill="#4bb006"/><rect x="378.17" y="456.50" width="16.81" height="17.00" rx="2.3" fill="#4bb006"/><rect x="378.17" y="477.50" width="16.81" height="17.00" rx="2.3" fill="#4bb006"/><rect x="378.17" y="498.50" width="16.81" height="17.00" rx="2.3" fill="#4bb006"/><rect x="378.17" y="519.50" width="16.81" height="17.00" rx="2.3" fill="#4bb006"/><rect x="398.78" y="393.50" width="16.81" height="17.00" rx="2.3" fill="#4bb006"/><rect x="398.78" y="414.50" width="16.81" height="17.00" rx="2.3" fill="#4bb006"/><rect x="398.78" y="435.50" width="16.81" height="17.00" rx="2.3" fill="#4bb006"/><rect x="398.78" y="456.50" width="16.81" height="17.00" rx="2.3" fill="#4bb006"/><rect x="398.78" y="477.50" width="16.81" height="17.00" rx="2.3" fill="#4bb006"/><rect x="398.78" y="498.50" width="16.81" height="17.00" rx="2.3" fill="#4bb006"/><rect x="398.78" y="519.50" width="16.81" height="17.00" rx="2.3" fill="#4bb006"/><rect x="419.39" y="393.50" width="16.81" height="17.00" rx="2.3" fill="#4bb006"/><rect x="419.39" y="414.50" width="16.81" height="17.00" rx="2.3" fill="#4bb006"/><rect x="419.39" y="435.50" width="16.81" height="17.00" rx="2.3" fill="#4bb006"/><rect x="419.39" y="456.50" width="16.81" height="17.00" rx="2.3" fill="#4bb006"/><rect x="419.39" y="477.50" width="16.81" height="17.00" rx="2.3" fill="#4bb006"/><rect x="419.39" y="498.50" width="16.81" height="17.00" rx="2.3" fill="#4bb006"/><rect x="419.39" y="519.50" width="16.81" height="17.00" rx="2.3" fill="#4bb006"/><rect x="440.00" y="393.50" width="16.81" height="17.00" rx="2.3" fill="#4bb006"/><rect x="440.00" y="414.50" width="16.81" height="17.00" rx="2.3" fill="#4bb006"/><rect x="440.00" y="435.50" width="16.81" height="17.00" rx="2.3" fill="#4bb006"/><rect x="440.00" y="456.50" width="16.81" height="17.00" rx="2.3" fill="#4bb006"/><rect x="440.00" y="477.50" width="16.81" height="17.00" rx="2.3" fill="#4bb006"/><rect x="440.00" y="498.50" width="16.81" height="17.00" rx="2.3" fill="#4bb006"/><rect x="440.00" y="519.50" width="16.81" height="17.00" rx="2.3" fill="#4bb006"/><rect x="460.61" y="393.50" width="16.81" height="17.00" rx="2.3" fill="#4bb006"/><rect x="460.61" y="414.50" width="16.81" height="17.00" rx="2.3" fill="#4bb006"/><rect x="460.61" y="435.50" width="16.81" height="17.00" rx="2.3" fill="#4bb006"/><rect x="460.61" y="456.50" width="16.81" height="17.00" rx="2.3" fill="#4bb006"/><rect x="460.61" y="477.50" width="16.81" height="17.00" rx="2.3" fill="#4bb006"/><rect x="460.61" y="498.50" width="16.81" height="17.00" rx="2.3" fill="#4bb006"/><rect x="460.61" y="519.50" width="16.81" height="17.00" rx="2.3" fill="#4bb006"/><rect x="481.22" y="393.50" width="16.81" height="17.00" rx="2.3" fill="#4bb006"/><rect x="481.22" y="435.50" width="16.81" height="17.00" rx="2.3" fill="#4bb006"/><rect x="481.22" y="456.50" width="16.81" height="17.00" rx="2.3" fill="#ffc800"/><rect x="481.22" y="477.50" width="16.81" height="17.00" rx="2.3" fill="#4bb006"/><path d="M25.90 391.50 V475.50 H5.29 V538.50 M108.34 391.50 V517.50 H87.73 V538.50 M211.39 391.50 V433.50 H190.78 V538.50 M293.83 391.50 V496.50 H273.22 V538.50 M376.27 391.50 V496.50 H355.66 V538.50 M479.32 391.50 V412.50 H458.71 V538.50 M5.29 391.50 H499.93 V496.50 H479.32 V538.50 H5.29" fill="none" stroke="#222" stroke-width="1.7" stroke-linecap="square"/></svg>
<div class="a" style="left:546.5px;top:261px;width:711px;height:332px;background:#f6f6f6;border:1px solid #d6d6d6;border-bottom:none;border-radius:5px 5px 0 0;overflow:hidden"><div class="a" style="left:0;top:0;right:0;height:29.5px;background:#efefef;border-bottom:1px solid #e2e2e2"></div></div>
<svg class="a" style="left:560px;top:271px" width="10" height="10" viewBox="0 0 10 10"><rect x="0.6" y="0.6" width="7.8" height="7.8" rx="1.4" fill="none" stroke="#1a1a1a" stroke-width="1.2"/><path d="M2.5 7V3.4M4.5 7V2.2M6.5 7V5" stroke="#1a1a1a" stroke-width="1.1" stroke-linecap="round"/></svg>
<div class="t" style="left:573.8px;top:270px;font-size:11.7px;color:#1d1d1d">Peptide Retention Time</div>
<div class="a" style="left:566.8px;top:306.7px;width:10px;height:10px;border-radius:50%;background:#3d9090"></div>
<div class="t" style="left:585px;top:306.7px;font-size:10px;color:#333;transform:scaleX(0.875);transform-origin:0 0">LGGNEQVTR</div>
<div class="a" style="left:647.5px;top:306.7px;width:10px;height:10px;border-radius:50%;background:#8f9134"></div>
<div class="t" style="left:665.7px;top:306.7px;font-size:10px;color:#333;transform:scaleX(0.875);transform-origin:0 0">ADVTPADFSEWSK</div>
<div class="a" style="left:751.8px;top:306.7px;width:10px;height:10px;border-radius:50%;background:#574a7e"></div>
<div class="t" style="left:769.8px;top:306.7px;font-size:10px;color:#333;transform:scaleX(0.875);transform-origin:0 0">DGLDAASYYAPVR</div>
<div class="a" style="left:854.7px;top:306.7px;width:10px;height:10px;border-radius:50%;background:#a9d24e"></div>
<div class="t" style="left:872.7px;top:306.7px;font-size:10px;color:#333;transform:scaleX(0.875);transform-origin:0 0">GTFIIDPAAVIR</div>
<div class="a" style="left:939.9px;top:306.7px;width:10px;height:10px;border-radius:50%;background:#f4a04a"></div>
<div class="t" style="left:958.3px;top:306.7px;font-size:10px;color:#333;transform:scaleX(0.875);transform-origin:0 0">VEATFGVDESNAK</div>
<div class="a" style="left:1042.7px;top:306.7px;width:10px;height:10px;border-radius:50%;background:#d34ad8"></div>
<div class="t" style="left:1061.3px;top:306.7px;font-size:10px;color:#333;transform:scaleX(0.875);transform-origin:0 0">TPVITGAPYEYR</div>
<div class="a" style="left:1135.9px;top:306.7px;width:10px;height:10px;border-radius:50%;background:#4a9ce6"></div>
<div class="t" style="left:1153.7px;top:306.7px;font-size:10px;color:#333;transform:scaleX(0.875);transform-origin:0 0">GAGSSEPVTGLDAK</div>
<div class="a" style="left:566.8px;top:324.4px;width:10px;height:10px;border-radius:50%;background:#5cd8f2"></div>
<div class="t" style="left:585px;top:324.4px;font-size:10px;color:#333;transform:scaleX(0.875);transform-origin:0 0">TPVISGGPYEYR</div>
<div class="a" style="left:661.6px;top:324.4px;width:18px;height:10px;background:#3d9595"></div>
<div class="t" style="left:684px;top:324.4px;font-size:10px;color:#333;transform:scaleX(0.875);transform-origin:0 0">YILAGVENSK</div>
<div class="a" style="left:747.2px;top:324.4px;width:18px;height:10px;background:#8f9134"></div>
<div class="t" style="left:769.8px;top:324.4px;font-size:10px;color:#333;transform:scaleX(0.875);transform-origin:0 0">LFLQFGAQGSPFLK</div>
<div class="a" style="left:858.6px;top:324.4px;width:18px;height:10px;background:#574a7e"></div>
<div class="t" style="left:880.8px;top:324.4px;font-size:10px;color:#333;transform:scaleX(0.875);transform-origin:0 0">GTFIIDPGGVIR</div>
<div class="a" style="left:558.4px;top:345px;width:90px;height:14px;overflow:hidden"><div class="t" style="left:-4.9px;top:2.8px;font-size:9px;color:#555">Retention Time [min]</div></div>
<svg class="a" style="left:1148px;top:347px" width="80" height="16" viewBox="1148 347 80 16" fill="none" stroke="#4a4a4a" stroke-width="1" stroke-linejoin="round"><path d="M1154.2 352.4h5.6v6.2h-5.6z"/><path d="M1154.2 352.4l-1.6-1.6M1152.3 352.6h2.2M1154.4 350.4v2.2" stroke-width="0.9"/><path d="M1171 352.4h4.9v6.2h-5.7v-4"/><path d="M1172 350.6l-2 1.8l2 1.8" stroke-width="0.9"/><path d="M1191.8 352.6a4 4 0 0 0-7.2 1.2M1184.9 357a4 4 0 0 0 7.1-1.1"/><path d="M1191.9 350.9v1.9h-1.9M1184.8 358.7v-1.9h1.9" stroke-width="0.9"/><path d="M1204.7 350.6v5.6M1202.3 353.9l2.4 2.4l2.4-2.4M1201.2 355.6v3.3h7v-3.3"/><path d="M1217.5 351h4.2l2.6 2.7v5.2h-6.8z"/></svg>
<svg class="a" style="left:547px;top:340px" width="710" height="253" viewBox="547 340 710 253"><line x1="593" x2="1225.5" y1="522.2" y2="522.2" stroke="#e3e3e3" stroke-width="1"/><line x1="593" x2="1225.5" y1="468.9" y2="468.9" stroke="#e3e3e3" stroke-width="1"/><line x1="593" x2="1225.5" y1="415.7" y2="415.7" stroke="#e3e3e3" stroke-width="1"/><line x1="593" x2="1225.5" y1="367.8" y2="367.8" stroke="#e3e3e3" stroke-width="1"/><line x1="594.5" x2="1225.5" y1="575.4" y2="575.4" stroke="#6e7079" stroke-width="1.2"/><line x1="664.0" x2="664.0" y1="575.4" y2="579.4" stroke="#6e7079" stroke-width="1"/><line x1="752.2" x2="752.2" y1="575.4" y2="579.4" stroke="#6e7079" stroke-width="1"/><line x1="840.4" x2="840.4" y1="575.4" y2="579.4" stroke="#6e7079" stroke-width="1"/><line x1="878.2" x2="878.2" y1="575.4" y2="579.4" stroke="#6e7079" stroke-width="1"/><line x1="966.4" x2="966.4" y1="575.4" y2="579.4" stroke="#6e7079" stroke-width="1"/><line x1="1054.6" x2="1054.6" y1="575.4" y2="579.4" stroke="#6e7079" stroke-width="1"/><line x1="1142.8" x2="1142.8" y1="575.4" y2="579.4" stroke="#6e7079" stroke-width="1"/><circle cx="615.4" cy="526.7" r="3.7" fill="#2e8c88" fill-opacity="0.85"/><circle cx="618.7" cy="528.4" r="3.7" fill="#2e8c88" fill-opacity="0.85"/><circle cx="622.0" cy="527.6" r="3.7" fill="#2e8c88" fill-opacity="0.85"/><circle cx="626.4" cy="527.2" r="3.7" fill="#2e8c88" fill-opacity="0.85"/><circle cx="630.0" cy="529.0" r="3.7" fill="#2e8c88" fill-opacity="0.85"/><circle cx="634.1" cy="531.6" r="3.7" fill="#2e8c88" fill-opacity="0.85"/><circle cx="651.1" cy="531.8" r="3.7" fill="#2e8c88" fill-opacity="0.85"/><circle cx="655.0" cy="527.0" r="3.7" fill="#2e8c88" fill-opacity="0.85"/><circle cx="654.4" cy="531.4" r="3.7" fill="#2e8c88" fill-opacity="0.85"/><circle cx="662.4" cy="531.1" r="3.7" fill="#2e8c88" fill-opacity="0.85"/><circle cx="674.1" cy="526.3" r="3.7" fill="#2e8c88" fill-opacity="0.85"/><circle cx="673.7" cy="533.4" r="3.7" fill="#2e8c88" fill-opacity="0.85"/><circle cx="683.8" cy="525.9" r="3.7" fill="#2e8c88" fill-opacity="0.85"/><circle cx="683.7" cy="532.4" r="3.7" fill="#2e8c88" fill-opacity="0.85"/><circle cx="691.6" cy="523.6" r="3.7" fill="#2e8c88" fill-opacity="0.85"/><circle cx="699.9" cy="525.9" r="3.7" fill="#2e8c88" fill-opacity="0.85"/><circle cx="751.0" cy="528.0" r="3.7" fill="#2e8c88" fill-opacity="0.85"/><circle cx="751.0" cy="532.8" r="3.7" fill="#2e8c88" fill-opacity="0.85"/><circle cx="754.9" cy="525.4" r="3.7" fill="#2e8c88" fill-opacity="0.85"/><circle cx="755.1" cy="530.0" r="3.7" fill="#2e8c88" fill-opacity="0.85"/><circle cx="759.1" cy="525.6" r="3.7" fill="#2e8c88" fill-opacity="0.85"/><circle cx="759.7" cy="532.8" r="3.7" fill="#2e8c88" fill-opacity="0.85"/><circle cx="763.9" cy="526.6" r="3.7" fill="#2e8c88" fill-opacity="0.85"/><circle cx="766.5" cy="524.1" r="3.7" fill="#2e8c88" fill-opacity="0.85"/><circle cx="874.5" cy="526.4" r="3.7" fill="#2e8c88" fill-opacity="0.85"/><circle cx="873.5" cy="532.6" r="3.7" fill="#2e8c88" fill-opacity="0.85"/><circle cx="877.2" cy="531.5" r="3.7" fill="#2e8c88" fill-opacity="0.85"/><circle cx="877.2" cy="536.9" r="3.7" fill="#2e8c88" fill-opacity="0.85"/><circle cx="885.9" cy="531.2" r="3.7" fill="#2e8c88" fill-opacity="0.85"/><circle cx="888.0" cy="534.1" r="3.7" fill="#2e8c88" fill-opacity="0.85"/><circle cx="926.3" cy="529.7" r="3.7" fill="#2e8c88" fill-opacity="0.85"/><circle cx="940.2" cy="530.3" r="3.7" fill="#2e8c88" fill-opacity="0.85"/><circle cx="965.5" cy="531.2" r="3.7" fill="#2e8c88" fill-opacity="0.85"/><circle cx="1040.1" cy="533.3" r="3.7" fill="#2e8c88" fill-opacity="0.85"/><circle cx="1104.6" cy="531.4" r="3.7" fill="#2e8c88" fill-opacity="0.85"/><circle cx="1106.6" cy="531.2" r="3.7" fill="#2e8c88" fill-opacity="0.85"/><circle cx="1203.3" cy="530.9" r="3.7" fill="#2e8c88" fill-opacity="0.85"/><circle cx="1206.6" cy="529.5" r="3.7" fill="#2e8c88" fill-opacity="0.85"/><circle cx="1215.4" cy="525.3" r="3.7" fill="#2e8c88" fill-opacity="0.85"/><circle cx="1218.8" cy="528.2" r="3.7" fill="#2e8c88" fill-opacity="0.85"/><circle cx="615.4" cy="465.0" r="3.7" fill="#838a1c" fill-opacity="0.85"/><circle cx="618.9" cy="466.0" r="3.7" fill="#838a1c" fill-opacity="0.85"/><circle cx="621.9" cy="465.4" r="3.7" fill="#838a1c" fill-opacity="0.85"/><circle cx="625.6" cy="465.6" r="3.7" fill="#838a1c" fill-opacity="0.85"/><circle cx="629.3" cy="464.7" r="3.7" fill="#838a1c" fill-opacity="0.85"/><circle cx="635.1" cy="465.1" r="3.7" fill="#838a1c" fill-opacity="0.85"/><circle cx="650.9" cy="465.0" r="3.7" fill="#838a1c" fill-opacity="0.85"/><circle cx="654.5" cy="465.3" r="3.7" fill="#838a1c" fill-opacity="0.85"/><circle cx="661.9" cy="463.6" r="3.7" fill="#838a1c" fill-opacity="0.85"/><circle cx="673.4" cy="463.4" r="3.7" fill="#838a1c" fill-opacity="0.85"/><circle cx="683.1" cy="462.3" r="3.7" fill="#838a1c" fill-opacity="0.85"/><circle cx="686.9" cy="462.1" r="3.7" fill="#838a1c" fill-opacity="0.85"/><circle cx="691.9" cy="461.2" r="3.7" fill="#838a1c" fill-opacity="0.85"/><circle cx="700.7" cy="463.8" r="3.7" fill="#838a1c" fill-opacity="0.85"/><circle cx="751.7" cy="464.5" r="3.7" fill="#838a1c" fill-opacity="0.85"/><circle cx="755.4" cy="465.9" r="3.7" fill="#838a1c" fill-opacity="0.85"/><circle cx="759.2" cy="465.3" r="3.7" fill="#838a1c" fill-opacity="0.85"/><circle cx="763.2" cy="464.6" r="3.7" fill="#838a1c" fill-opacity="0.85"/><circle cx="766.8" cy="465.4" r="3.7" fill="#838a1c" fill-opacity="0.85"/><circle cx="874.0" cy="465.8" r="3.7" fill="#838a1c" fill-opacity="0.85"/><circle cx="877.1" cy="464.8" r="3.7" fill="#838a1c" fill-opacity="0.85"/><circle cx="886.8" cy="465.9" r="3.7" fill="#838a1c" fill-opacity="0.85"/><circle cx="888.7" cy="465.6" r="3.7" fill="#838a1c" fill-opacity="0.85"/><circle cx="926.4" cy="465.2" r="3.7" fill="#838a1c" fill-opacity="0.85"/><circle cx="940.1" cy="464.8" r="3.7" fill="#838a1c" fill-opacity="0.85"/><circle cx="966.0" cy="467.4" r="3.7" fill="#838a1c" fill-opacity="0.85"/><circle cx="1039.9" cy="465.0" r="3.7" fill="#838a1c" fill-opacity="0.85"/><circle cx="1103.8" cy="467.7" r="3.7" fill="#838a1c" fill-opacity="0.85"/><circle cx="1106.1" cy="467.6" r="3.7" fill="#838a1c" fill-opacity="0.85"/><circle cx="1203.2" cy="463.5" r="3.7" fill="#838a1c" fill-opacity="0.85"/><circle cx="1206.4" cy="465.3" r="3.7" fill="#838a1c" fill-opacity="0.85"/><circle cx="1215.0" cy="462.4" r="3.7" fill="#838a1c" fill-opacity="0.85"/><circle cx="1219.0" cy="464.4" r="3.7" fill="#838a1c" fill-opacity="0.85"/><circle cx="616.0" cy="471.9" r="3.7" fill="#3d2f66" fill-opacity="0.85"/><circle cx="619.0" cy="472.2" r="3.7" fill="#3d2f66" fill-opacity="0.85"/><circle cx="623.0" cy="472.3" r="3.7" fill="#3d2f66" fill-opacity="0.85"/><circle cx="625.6" cy="472.0" r="3.7" fill="#3d2f66" fill-opacity="0.85"/><circle cx="629.0" cy="471.9" r="3.7" fill="#3d2f66" fill-opacity="0.85"/><circle cx="634.5" cy="470.9" r="3.7" fill="#3d2f66" fill-opacity="0.85"/><circle cx="651.4" cy="471.2" r="3.7" fill="#3d2f66" fill-opacity="0.85"/><circle cx="654.3" cy="472.2" r="3.7" fill="#3d2f66" fill-opacity="0.85"/><circle cx="663.0" cy="470.4" r="3.7" fill="#3d2f66" fill-opacity="0.85"/><circle cx="673.2" cy="469.2" r="3.7" fill="#3d2f66" fill-opacity="0.85"/><circle cx="683.3" cy="469.0" r="3.7" fill="#3d2f66" fill-opacity="0.85"/><circle cx="686.1" cy="468.4" r="3.7" fill="#3d2f66" fill-opacity="0.85"/><circle cx="691.8" cy="468.1" r="3.7" fill="#3d2f66" fill-opacity="0.85"/><circle cx="700.6" cy="470.2" r="3.7" fill="#3d2f66" fill-opacity="0.85"/><circle cx="751.1" cy="471.9" r="3.7" fill="#3d2f66" fill-opacity="0.85"/><circle cx="754.6" cy="472.3" r="3.7" fill="#3d2f66" fill-opacity="0.85"/><circle cx="759.1" cy="471.7" r="3.7" fill="#3d2f66" fill-opacity="0.85"/><circle cx="763.5" cy="471.4" r="3.7" fill="#3d2f66" fill-opacity="0.85"/><circle cx="767.6" cy="470.7" r="3.7" fill="#3d2f66" fill-opacity="0.85"/><circle cx="873.6" cy="471.4" r="3.7" fill="#3d2f66" fill-opacity="0.85"/><circle cx="877.2" cy="472.5" r="3.7" fill="#3d2f66" fill-opacity="0.85"/><circle cx="886.9" cy="471.9" r="3.7" fill="#3d2f66" fill-opacity="0.85"/><circle cx="888.5" cy="471.8" r="3.7" fill="#3d2f66" fill-opacity="0.85"/><circle cx="891.4" cy="510.0" r="3.7" fill="#3d2f66" fill-opacity="0.85"/><circle cx="926.2" cy="470.9" r="3.7" fill="#3d2f66" fill-opacity="0.85"/><circle cx="940.0" cy="471.4" r="3.7" fill="#3d2f66" fill-opacity="0.85"/><circle cx="965.5" cy="473.0" r="3.7" fill="#3d2f66" fill-opacity="0.85"/><circle cx="1040.7" cy="471.2" r="3.7" fill="#3d2f66" fill-opacity="0.85"/><circle cx="1104.4" cy="474.2" r="3.7" fill="#3d2f66" fill-opacity="0.85"/><circle cx="1106.6" cy="474.6" r="3.7" fill="#3d2f66" fill-opacity="0.85"/><circle cx="1203.3" cy="470.8" r="3.7" fill="#3d2f66" fill-opacity="0.85"/><circle cx="1206.1" cy="472.1" r="3.7" fill="#3d2f66" fill-opacity="0.85"/><circle cx="1215.8" cy="470.1" r="3.7" fill="#3d2f66" fill-opacity="0.85"/><circle cx="1218.9" cy="472.2" r="3.7" fill="#3d2f66" fill-opacity="0.85"/><circle cx="1218.9" cy="475.0" r="3.7" fill="#3d2f66" fill-opacity="0.85"/><circle cx="1220.0" cy="476.0" r="3.7" fill="#3d2f66" fill-opacity="0.85"/><circle cx="616.3" cy="436.8" r="3.7" fill="#9ccf12" fill-opacity="0.85"/><circle cx="618.6" cy="436.9" r="3.7" fill="#9ccf12" fill-opacity="0.85"/><circle cx="622.9" cy="437.4" r="3.7" fill="#9ccf12" fill-opacity="0.85"/><circle cx="626.4" cy="436.6" r="3.7" fill="#9ccf12" fill-opacity="0.85"/><circle cx="629.2" cy="436.8" r="3.7" fill="#9ccf12" fill-opacity="0.85"/><circle cx="634.9" cy="437.4" r="3.7" fill="#9ccf12" fill-opacity="0.85"/><circle cx="651.6" cy="436.8" r="3.7" fill="#9ccf12" fill-opacity="0.85"/><circle cx="654.7" cy="437.4" r="3.7" fill="#9ccf12" fill-opacity="0.85"/><circle cx="662.5" cy="435.0" r="3.7" fill="#9ccf12" fill-opacity="0.85"/><circle cx="673.7" cy="435.6" r="3.7" fill="#9ccf12" fill-opacity="0.85"/><circle cx="683.8" cy="435.1" r="3.7" fill="#9ccf12" fill-opacity="0.85"/><circle cx="685.9" cy="433.8" r="3.7" fill="#9ccf12" fill-opacity="0.85"/><circle cx="692.0" cy="432.6" r="3.7" fill="#9ccf12" fill-opacity="0.85"/><circle cx="700.9" cy="435.1" r="3.7" fill="#9ccf12" fill-opacity="0.85"/><circle cx="751.3" cy="436.1" r="3.7" fill="#9ccf12" fill-opacity="0.85"/><circle cx="755.4" cy="437.2" r="3.7" fill="#9ccf12" fill-opacity="0.85"/><circle cx="759.5" cy="437.0" r="3.7" fill="#9ccf12" fill-opacity="0.85"/><circle cx="763.0" cy="437.1" r="3.7" fill="#9ccf12" fill-opacity="0.85"/><circle cx="767.6" cy="436.2" r="3.7" fill="#9ccf12" fill-opacity="0.85"/><circle cx="874.6" cy="436.8" r="3.7" fill="#9ccf12" fill-opacity="0.85"/><circle cx="876.8" cy="437.3" r="3.7" fill="#9ccf12" fill-opacity="0.85"/><circle cx="887.1" cy="437.7" r="3.7" fill="#9ccf12" fill-opacity="0.85"/><circle cx="888.2" cy="437.9" r="3.7" fill="#9ccf12" fill-opacity="0.85"/><circle cx="925.9" cy="436.8" r="3.7" fill="#9ccf12" fill-opacity="0.85"/><circle cx="940.5" cy="437.4" r="3.7" fill="#9ccf12" fill-opacity="0.85"/><circle cx="965.4" cy="439.4" r="3.7" fill="#9ccf12" fill-opacity="0.85"/><circle cx="1041.0" cy="436.9" r="3.7" fill="#9ccf12" fill-opacity="0.85"/><circle cx="1104.0" cy="439.2" r="3.7" fill="#9ccf12" fill-opacity="0.85"/><circle cx="1106.7" cy="439.1" r="3.7" fill="#9ccf12" fill-opacity="0.85"/><circle cx="1203.0" cy="435.5" r="3.7" fill="#9ccf12" fill-opacity="0.85"/><circle cx="1206.2" cy="437.1" r="3.7" fill="#9ccf12" fill-opacity="0.85"/><circle cx="1215.9" cy="434.2" r="3.7" fill="#9ccf12" fill-opacity="0.85"/><circle cx="1218.5" cy="436.4" r="3.7" fill="#9ccf12" fill-opacity="0.85"/><circle cx="616.4" cy="498.9" r="3.7" fill="#f7961e" fill-opacity="0.85"/><circle cx="619.4" cy="499.0" r="3.7" fill="#f7961e" fill-opacity="0.85"/><circle cx="622.0" cy="498.8" r="3.7" fill="#f7961e" fill-opacity="0.85"/><circle cx="625.8" cy="499.0" r="3.7" fill="#f7961e" fill-opacity="0.85"/><circle cx="629.6" cy="499.0" r="3.7" fill="#f7961e" fill-opacity="0.85"/><circle cx="634.7" cy="497.9" r="3.7" fill="#f7961e" fill-opacity="0.85"/><circle cx="652.1" cy="498.7" r="3.7" fill="#f7961e" fill-opacity="0.85"/><circle cx="654.9" cy="498.8" r="3.7" fill="#f7961e" fill-opacity="0.85"/><circle cx="661.9" cy="497.0" r="3.7" fill="#f7961e" fill-opacity="0.85"/><circle cx="673.2" cy="496.3" r="3.7" fill="#f7961e" fill-opacity="0.85"/><circle cx="684.0" cy="495.9" r="3.7" fill="#f7961e" fill-opacity="0.85"/><circle cx="686.7" cy="495.3" r="3.7" fill="#f7961e" fill-opacity="0.85"/><circle cx="691.3" cy="494.3" r="3.7" fill="#f7961e" fill-opacity="0.85"/><circle cx="700.2" cy="497.2" r="3.7" fill="#f7961e" fill-opacity="0.85"/><circle cx="751.8" cy="498.2" r="3.7" fill="#f7961e" fill-opacity="0.85"/><circle cx="755.1" cy="497.8" r="3.7" fill="#f7961e" fill-opacity="0.85"/><circle cx="760.0" cy="498.0" r="3.7" fill="#f7961e" fill-opacity="0.85"/><circle cx="763.7" cy="498.2" r="3.7" fill="#f7961e" fill-opacity="0.85"/><circle cx="767.4" cy="497.4" r="3.7" fill="#f7961e" fill-opacity="0.85"/><circle cx="873.6" cy="498.3" r="3.7" fill="#f7961e" fill-opacity="0.85"/><circle cx="877.0" cy="498.0" r="3.7" fill="#f7961e" fill-opacity="0.85"/><circle cx="886.8" cy="498.1" r="3.7" fill="#f7961e" fill-opacity="0.85"/><circle cx="888.6" cy="499.0" r="3.7" fill="#f7961e" fill-opacity="0.85"/><circle cx="889.0" cy="525.5" r="3.7" fill="#f7961e" fill-opacity="0.85"/><circle cx="925.4" cy="499.0" r="3.7" fill="#f7961e" fill-opacity="0.85"/><circle cx="925.4" cy="523.0" r="3.7" fill="#f7961e" fill-opacity="0.85"/><circle cx="940.6" cy="498.9" r="3.7" fill="#f7961e" fill-opacity="0.85"/><circle cx="940.9" cy="523.6" r="3.7" fill="#f7961e" fill-opacity="0.85"/><circle cx="965.3" cy="500.4" r="3.7" fill="#f7961e" fill-opacity="0.85"/><circle cx="1040.5" cy="497.9" r="3.7" fill="#f7961e" fill-opacity="0.85"/><circle cx="1103.8" cy="500.7" r="3.7" fill="#f7961e" fill-opacity="0.85"/><circle cx="1106.4" cy="501.2" r="3.7" fill="#f7961e" fill-opacity="0.85"/><circle cx="1204.0" cy="497.1" r="3.7" fill="#f7961e" fill-opacity="0.85"/><circle cx="1207.0" cy="498.4" r="3.7" fill="#f7961e" fill-opacity="0.85"/><circle cx="1215.2" cy="496.6" r="3.7" fill="#f7961e" fill-opacity="0.85"/><circle cx="1218.9" cy="497.6" r="3.7" fill="#f7961e" fill-opacity="0.85"/><circle cx="1221.3" cy="477.7" r="3.7" fill="#f7961e" fill-opacity="0.85"/><circle cx="615.3" cy="480.9" r="3.7" fill="#d433de" fill-opacity="0.85"/><circle cx="619.0" cy="481.9" r="3.7" fill="#d433de" fill-opacity="0.85"/><circle cx="623.1" cy="481.9" r="3.7" fill="#d433de" fill-opacity="0.85"/><circle cx="625.5" cy="481.4" r="3.7" fill="#d433de" fill-opacity="0.85"/><circle cx="629.2" cy="481.6" r="3.7" fill="#d433de" fill-opacity="0.85"/><circle cx="634.0" cy="481.8" r="3.7" fill="#d433de" fill-opacity="0.85"/><circle cx="651.1" cy="481.3" r="3.7" fill="#d433de" fill-opacity="0.85"/><circle cx="654.0" cy="481.3" r="3.7" fill="#d433de" fill-opacity="0.85"/><circle cx="662.7" cy="479.4" r="3.7" fill="#d433de" fill-opacity="0.85"/><circle cx="674.1" cy="479.6" r="3.7" fill="#d433de" fill-opacity="0.85"/><circle cx="683.1" cy="478.9" r="3.7" fill="#d433de" fill-opacity="0.85"/><circle cx="686.7" cy="478.6" r="3.7" fill="#d433de" fill-opacity="0.85"/><circle cx="691.6" cy="477.8" r="3.7" fill="#d433de" fill-opacity="0.85"/><circle cx="700.1" cy="480.2" r="3.7" fill="#d433de" fill-opacity="0.85"/><circle cx="750.9" cy="480.7" r="3.7" fill="#d433de" fill-opacity="0.85"/><circle cx="755.6" cy="481.5" r="3.7" fill="#d433de" fill-opacity="0.85"/><circle cx="759.9" cy="482.1" r="3.7" fill="#d433de" fill-opacity="0.85"/><circle cx="763.4" cy="481.1" r="3.7" fill="#d433de" fill-opacity="0.85"/><circle cx="766.8" cy="481.2" r="3.7" fill="#d433de" fill-opacity="0.85"/><circle cx="873.5" cy="481.1" r="3.7" fill="#d433de" fill-opacity="0.85"/><circle cx="876.6" cy="481.6" r="3.7" fill="#d433de" fill-opacity="0.85"/><circle cx="887.0" cy="482.2" r="3.7" fill="#d433de" fill-opacity="0.85"/><circle cx="889.1" cy="481.9" r="3.7" fill="#d433de" fill-opacity="0.85"/><circle cx="889.0" cy="514.0" r="3.7" fill="#d433de" fill-opacity="0.85"/><circle cx="925.9" cy="481.6" r="3.7" fill="#d433de" fill-opacity="0.85"/><circle cx="939.9" cy="482.1" r="3.7" fill="#d433de" fill-opacity="0.85"/><circle cx="965.5" cy="483.1" r="3.7" fill="#d433de" fill-opacity="0.85"/><circle cx="1040.2" cy="482.1" r="3.7" fill="#d433de" fill-opacity="0.85"/><circle cx="1104.1" cy="483.7" r="3.7" fill="#d433de" fill-opacity="0.85"/><circle cx="1106.2" cy="483.5" r="3.7" fill="#d433de" fill-opacity="0.85"/><circle cx="1203.3" cy="479.7" r="3.7" fill="#d433de" fill-opacity="0.85"/><circle cx="1206.9" cy="481.8" r="3.7" fill="#d433de" fill-opacity="0.85"/><circle cx="1215.0" cy="479.4" r="3.7" fill="#d433de" fill-opacity="0.85"/><circle cx="1218.9" cy="481.2" r="3.7" fill="#d433de" fill-opacity="0.85"/><circle cx="616.0" cy="507.4" r="3.7" fill="#2f91e8" fill-opacity="0.85"/><circle cx="618.8" cy="507.3" r="3.7" fill="#2f91e8" fill-opacity="0.85"/><circle cx="623.1" cy="508.4" r="3.7" fill="#2f91e8" fill-opacity="0.85"/><circle cx="625.7" cy="507.4" r="3.7" fill="#2f91e8" fill-opacity="0.85"/><circle cx="629.1" cy="507.0" r="3.7" fill="#2f91e8" fill-opacity="0.85"/><circle cx="634.2" cy="507.5" r="3.7" fill="#2f91e8" fill-opacity="0.85"/><circle cx="651.7" cy="507.6" r="3.7" fill="#2f91e8" fill-opacity="0.85"/><circle cx="654.3" cy="507.5" r="3.7" fill="#2f91e8" fill-opacity="0.85"/><circle cx="661.8" cy="505.7" r="3.7" fill="#2f91e8" fill-opacity="0.85"/><circle cx="674.0" cy="506.0" r="3.7" fill="#2f91e8" fill-opacity="0.85"/><circle cx="682.9" cy="504.3" r="3.7" fill="#2f91e8" fill-opacity="0.85"/><circle cx="686.5" cy="504.3" r="3.7" fill="#2f91e8" fill-opacity="0.85"/><circle cx="691.9" cy="504.0" r="3.7" fill="#2f91e8" fill-opacity="0.85"/><circle cx="700.8" cy="505.4" r="3.7" fill="#2f91e8" fill-opacity="0.85"/><circle cx="751.8" cy="506.6" r="3.7" fill="#2f91e8" fill-opacity="0.85"/><circle cx="755.6" cy="507.5" r="3.7" fill="#2f91e8" fill-opacity="0.85"/><circle cx="759.8" cy="506.8" r="3.7" fill="#2f91e8" fill-opacity="0.85"/><circle cx="763.9" cy="507.4" r="3.7" fill="#2f91e8" fill-opacity="0.85"/><circle cx="767.0" cy="507.2" r="3.7" fill="#2f91e8" fill-opacity="0.85"/><circle cx="874.4" cy="508.4" r="3.7" fill="#2f91e8" fill-opacity="0.85"/><circle cx="877.5" cy="508.1" r="3.7" fill="#2f91e8" fill-opacity="0.85"/><circle cx="886.3" cy="507.7" r="3.7" fill="#2f91e8" fill-opacity="0.85"/><circle cx="888.2" cy="507.6" r="3.7" fill="#2f91e8" fill-opacity="0.85"/><circle cx="925.9" cy="506.6" r="3.7" fill="#2f91e8" fill-opacity="0.85"/><circle cx="939.8" cy="508.3" r="3.7" fill="#2f91e8" fill-opacity="0.85"/><circle cx="965.3" cy="508.9" r="3.7" fill="#2f91e8" fill-opacity="0.85"/><circle cx="1040.7" cy="506.3" r="3.7" fill="#2f91e8" fill-opacity="0.85"/><circle cx="1104.7" cy="511.1" r="3.7" fill="#2f91e8" fill-opacity="0.85"/><circle cx="1106.5" cy="510.6" r="3.7" fill="#2f91e8" fill-opacity="0.85"/><circle cx="1203.9" cy="505.9" r="3.7" fill="#2f91e8" fill-opacity="0.85"/><circle cx="1205.9" cy="507.7" r="3.7" fill="#2f91e8" fill-opacity="0.85"/><circle cx="1215.5" cy="505.6" r="3.7" fill="#2f91e8" fill-opacity="0.85"/><circle cx="1218.4" cy="506.2" r="3.7" fill="#2f91e8" fill-opacity="0.85"/><circle cx="615.3" cy="487.0" r="3.7" fill="#45d6f2" fill-opacity="0.85"/><circle cx="618.9" cy="486.8" r="3.7" fill="#45d6f2" fill-opacity="0.85"/><circle cx="622.0" cy="487.6" r="3.7" fill="#45d6f2" fill-opacity="0.85"/><circle cx="625.7" cy="486.6" r="3.7" fill="#45d6f2" fill-opacity="0.85"/><circle cx="629.3" cy="486.8" r="3.7" fill="#45d6f2" fill-opacity="0.85"/><circle cx="634.3" cy="486.9" r="3.7" fill="#45d6f2" fill-opacity="0.85"/><circle cx="651.6" cy="486.4" r="3.7" fill="#45d6f2" fill-opacity="0.85"/><circle cx="654.8" cy="487.2" r="3.7" fill="#45d6f2" fill-opacity="0.85"/><circle cx="662.7" cy="485.1" r="3.7" fill="#45d6f2" fill-opacity="0.85"/><circle cx="673.5" cy="485.3" r="3.7" fill="#45d6f2" fill-opacity="0.85"/><circle cx="683.6" cy="484.4" r="3.7" fill="#45d6f2" fill-opacity="0.85"/><circle cx="686.7" cy="484.3" r="3.7" fill="#45d6f2" fill-opacity="0.85"/><circle cx="692.2" cy="482.2" r="3.7" fill="#45d6f2" fill-opacity="0.85"/><circle cx="701.0" cy="485.7" r="3.7" fill="#45d6f2" fill-opacity="0.85"/><circle cx="751.3" cy="486.9" r="3.7" fill="#45d6f2" fill-opacity="0.85"/><circle cx="755.1" cy="486.5" r="3.7" fill="#45d6f2" fill-opacity="0.85"/><circle cx="759.5" cy="486.6" r="3.7" fill="#45d6f2" fill-opacity="0.85"/><circle cx="763.5" cy="486.1" r="3.7" fill="#45d6f2" fill-opacity="0.85"/><circle cx="766.8" cy="485.7" r="3.7" fill="#45d6f2" fill-opacity="0.85"/><circle cx="874.1" cy="487.1" r="3.7" fill="#45d6f2" fill-opacity="0.85"/><circle cx="877.3" cy="487.0" r="3.7" fill="#45d6f2" fill-opacity="0.85"/><circle cx="886.7" cy="487.5" r="3.7" fill="#45d6f2" fill-opacity="0.85"/><circle cx="888.7" cy="487.5" r="3.7" fill="#45d6f2" fill-opacity="0.85"/><circle cx="965.0" cy="488.0" r="3.7" fill="#45d6f2" fill-opacity="0.85"/><circle cx="1040.6" cy="487.2" r="3.7" fill="#45d6f2" fill-opacity="0.85"/><circle cx="1203.8" cy="485.7" r="3.7" fill="#45d6f2" fill-opacity="0.85"/><circle cx="1206.9" cy="487.2" r="3.7" fill="#45d6f2" fill-opacity="0.85"/><circle cx="1215.1" cy="484.9" r="3.7" fill="#45d6f2" fill-opacity="0.85"/><circle cx="1219.0" cy="486.3" r="3.7" fill="#45d6f2" fill-opacity="0.85"/><rect x="612.4" y="486.8" width="7.2" height="7.2" fill="#0f8a84" fill-opacity="0.85"/><rect x="616.0" y="488.6" width="7.2" height="7.2" fill="#0f8a84" fill-opacity="0.85"/><rect x="619.2" y="487.9" width="7.2" height="7.2" fill="#0f8a84" fill-opacity="0.85"/><rect x="623.0" y="488.1" width="7.2" height="7.2" fill="#0f8a84" fill-opacity="0.85"/><rect x="626.5" y="487.7" width="7.2" height="7.2" fill="#0f8a84" fill-opacity="0.85"/><rect x="630.7" y="487.9" width="7.2" height="7.2" fill="#0f8a84" fill-opacity="0.85"/><rect x="647.7" y="488.2" width="7.2" height="7.2" fill="#0f8a84" fill-opacity="0.85"/><rect x="651.2" y="487.7" width="7.2" height="7.2" fill="#0f8a84" fill-opacity="0.85"/><rect x="658.7" y="486.3" width="7.2" height="7.2" fill="#0f8a84" fill-opacity="0.85"/><rect x="669.8" y="485.8" width="7.2" height="7.2" fill="#0f8a84" fill-opacity="0.85"/><rect x="679.6" y="485.7" width="7.2" height="7.2" fill="#0f8a84" fill-opacity="0.85"/><rect x="683.3" y="485.5" width="7.2" height="7.2" fill="#0f8a84" fill-opacity="0.85"/><rect x="688.6" y="483.9" width="7.2" height="7.2" fill="#0f8a84" fill-opacity="0.85"/><rect x="696.8" y="486.2" width="7.2" height="7.2" fill="#0f8a84" fill-opacity="0.85"/><rect x="748.1" y="487.7" width="7.2" height="7.2" fill="#0f8a84" fill-opacity="0.85"/><rect x="751.4" y="487.7" width="7.2" height="7.2" fill="#0f8a84" fill-opacity="0.85"/><rect x="755.5" y="487.9" width="7.2" height="7.2" fill="#0f8a84" fill-opacity="0.85"/><rect x="759.5" y="487.6" width="7.2" height="7.2" fill="#0f8a84" fill-opacity="0.85"/><rect x="763.9" y="487.0" width="7.2" height="7.2" fill="#0f8a84" fill-opacity="0.85"/><rect x="870.5" y="487.4" width="7.2" height="7.2" fill="#0f8a84" fill-opacity="0.85"/><rect x="873.0" y="487.4" width="7.2" height="7.2" fill="#0f8a84" fill-opacity="0.85"/><rect x="883.2" y="487.8" width="7.2" height="7.2" fill="#0f8a84" fill-opacity="0.85"/><rect x="885.5" y="487.2" width="7.2" height="7.2" fill="#0f8a84" fill-opacity="0.85"/><rect x="885.4" y="513.9" width="7.2" height="7.2" fill="#0f8a84" fill-opacity="0.85"/><rect x="885.4" y="518.9" width="7.2" height="7.2" fill="#0f8a84" fill-opacity="0.85"/><rect x="921.7" y="490.7" width="7.2" height="7.2" fill="#0f8a84" fill-opacity="0.85"/><rect x="936.6" y="490.7" width="7.2" height="7.2" fill="#0f8a84" fill-opacity="0.85"/><rect x="961.8" y="489.6" width="7.2" height="7.2" fill="#0f8a84" fill-opacity="0.85"/><rect x="1100.4" y="490.4" width="7.2" height="7.2" fill="#0f8a84" fill-opacity="0.85"/><rect x="1101.0" y="516.1" width="7.2" height="7.2" fill="#0f8a84" fill-opacity="0.85"/><rect x="1102.2" y="491.1" width="7.2" height="7.2" fill="#0f8a84" fill-opacity="0.85"/><rect x="1102.2" y="511.8" width="7.2" height="7.2" fill="#0f8a84" fill-opacity="0.85"/><rect x="1200.4" y="487.0" width="7.2" height="7.2" fill="#0f8a84" fill-opacity="0.85"/><rect x="1202.5" y="488.3" width="7.2" height="7.2" fill="#0f8a84" fill-opacity="0.85"/><rect x="1212.1" y="485.0" width="7.2" height="7.2" fill="#0f8a84" fill-opacity="0.85"/><rect x="1214.9" y="487.2" width="7.2" height="7.2" fill="#0f8a84" fill-opacity="0.85"/><rect x="612.1" y="428.5" width="7.2" height="7.2" fill="#7c830c" fill-opacity="0.85"/><rect x="615.4" y="428.3" width="7.2" height="7.2" fill="#7c830c" fill-opacity="0.85"/><rect x="619.2" y="429.1" width="7.2" height="7.2" fill="#7c830c" fill-opacity="0.85"/><rect x="621.9" y="428.1" width="7.2" height="7.2" fill="#7c830c" fill-opacity="0.85"/><rect x="625.4" y="429.4" width="7.2" height="7.2" fill="#7c830c" fill-opacity="0.85"/><rect x="630.7" y="428.0" width="7.2" height="7.2" fill="#7c830c" fill-opacity="0.85"/><rect x="648.0" y="429.2" width="7.2" height="7.2" fill="#7c830c" fill-opacity="0.85"/><rect x="650.3" y="429.0" width="7.2" height="7.2" fill="#7c830c" fill-opacity="0.85"/><rect x="659.2" y="426.9" width="7.2" height="7.2" fill="#7c830c" fill-opacity="0.85"/><rect x="670.2" y="426.6" width="7.2" height="7.2" fill="#7c830c" fill-opacity="0.85"/><rect x="679.4" y="426.2" width="7.2" height="7.2" fill="#7c830c" fill-opacity="0.85"/><rect x="682.7" y="426.3" width="7.2" height="7.2" fill="#7c830c" fill-opacity="0.85"/><rect x="687.5" y="424.6" width="7.2" height="7.2" fill="#7c830c" fill-opacity="0.85"/><rect x="697.3" y="427.2" width="7.2" height="7.2" fill="#7c830c" fill-opacity="0.85"/><rect x="747.8" y="428.8" width="7.2" height="7.2" fill="#7c830c" fill-opacity="0.85"/><rect x="751.6" y="428.7" width="7.2" height="7.2" fill="#7c830c" fill-opacity="0.85"/><rect x="756.1" y="428.1" width="7.2" height="7.2" fill="#7c830c" fill-opacity="0.85"/><rect x="759.7" y="428.6" width="7.2" height="7.2" fill="#7c830c" fill-opacity="0.85"/><rect x="763.8" y="428.5" width="7.2" height="7.2" fill="#7c830c" fill-opacity="0.85"/><rect x="870.6" y="429.5" width="7.2" height="7.2" fill="#7c830c" fill-opacity="0.85"/><rect x="873.4" y="429.3" width="7.2" height="7.2" fill="#7c830c" fill-opacity="0.85"/><rect x="883.0" y="428.9" width="7.2" height="7.2" fill="#7c830c" fill-opacity="0.85"/><rect x="885.1" y="429.1" width="7.2" height="7.2" fill="#7c830c" fill-opacity="0.85"/><rect x="886.9" y="485.4" width="7.2" height="7.2" fill="#7c830c" fill-opacity="0.85"/><rect x="922.1" y="427.8" width="7.2" height="7.2" fill="#7c830c" fill-opacity="0.85"/><rect x="921.9" y="485.4" width="7.2" height="7.2" fill="#7c830c" fill-opacity="0.85"/><rect x="936.7" y="429.0" width="7.2" height="7.2" fill="#7c830c" fill-opacity="0.85"/><rect x="936.5" y="485.1" width="7.2" height="7.2" fill="#7c830c" fill-opacity="0.85"/><rect x="962.4" y="430.0" width="7.2" height="7.2" fill="#7c830c" fill-opacity="0.85"/><rect x="1037.1" y="426.6" width="7.2" height="7.2" fill="#7c830c" fill-opacity="0.85"/><rect x="1101.2" y="429.9" width="7.2" height="7.2" fill="#7c830c" fill-opacity="0.85"/><rect x="1100.1" y="485.8" width="7.2" height="7.2" fill="#7c830c" fill-opacity="0.85"/><rect x="1102.6" y="429.1" width="7.2" height="7.2" fill="#7c830c" fill-opacity="0.85"/><rect x="1199.6" y="427.6" width="7.2" height="7.2" fill="#7c830c" fill-opacity="0.85"/><rect x="1203.4" y="429.5" width="7.2" height="7.2" fill="#7c830c" fill-opacity="0.85"/><rect x="1212.5" y="426.6" width="7.2" height="7.2" fill="#7c830c" fill-opacity="0.85"/><rect x="1215.5" y="428.1" width="7.2" height="7.2" fill="#7c830c" fill-opacity="0.85"/><rect x="1217.9" y="420.0" width="7.2" height="7.2" fill="#7c830c" fill-opacity="0.85"/><rect x="612.2" y="445.9" width="7.2" height="7.2" fill="#3c2f66" fill-opacity="0.85"/><rect x="614.8" y="446.2" width="7.2" height="7.2" fill="#3c2f66" fill-opacity="0.85"/><rect x="619.4" y="447.1" width="7.2" height="7.2" fill="#3c2f66" fill-opacity="0.85"/><rect x="622.5" y="446.0" width="7.2" height="7.2" fill="#3c2f66" fill-opacity="0.85"/><rect x="626.2" y="445.9" width="7.2" height="7.2" fill="#3c2f66" fill-opacity="0.85"/><rect x="630.6" y="446.4" width="7.2" height="7.2" fill="#3c2f66" fill-opacity="0.85"/><rect x="648.4" y="445.7" width="7.2" height="7.2" fill="#3c2f66" fill-opacity="0.85"/><rect x="650.3" y="446.0" width="7.2" height="7.2" fill="#3c2f66" fill-opacity="0.85"/><rect x="658.9" y="444.4" width="7.2" height="7.2" fill="#3c2f66" fill-opacity="0.85"/><rect x="669.7" y="443.3" width="7.2" height="7.2" fill="#3c2f66" fill-opacity="0.85"/><rect x="680.1" y="444.2" width="7.2" height="7.2" fill="#3c2f66" fill-opacity="0.85"/><rect x="682.8" y="442.6" width="7.2" height="7.2" fill="#3c2f66" fill-opacity="0.85"/><rect x="687.8" y="441.8" width="7.2" height="7.2" fill="#3c2f66" fill-opacity="0.85"/><rect x="697.0" y="443.8" width="7.2" height="7.2" fill="#3c2f66" fill-opacity="0.85"/><rect x="748.1" y="445.2" width="7.2" height="7.2" fill="#3c2f66" fill-opacity="0.85"/><rect x="751.2" y="445.9" width="7.2" height="7.2" fill="#3c2f66" fill-opacity="0.85"/><rect x="756.4" y="446.7" width="7.2" height="7.2" fill="#3c2f66" fill-opacity="0.85"/><rect x="759.4" y="445.8" width="7.2" height="7.2" fill="#3c2f66" fill-opacity="0.85"/><rect x="763.3" y="446.1" width="7.2" height="7.2" fill="#3c2f66" fill-opacity="0.85"/><rect x="870.4" y="446.7" width="7.2" height="7.2" fill="#3c2f66" fill-opacity="0.85"/><rect x="873.4" y="446.2" width="7.2" height="7.2" fill="#3c2f66" fill-opacity="0.85"/><rect x="882.6" y="446.9" width="7.2" height="7.2" fill="#3c2f66" fill-opacity="0.85"/><rect x="885.1" y="446.1" width="7.2" height="7.2" fill="#3c2f66" fill-opacity="0.85"/><rect x="886.9" y="494.8" width="7.2" height="7.2" fill="#3c2f66" fill-opacity="0.85"/><rect x="922.8" y="445.9" width="7.2" height="7.2" fill="#3c2f66" fill-opacity="0.85"/><rect x="936.4" y="446.6" width="7.2" height="7.2" fill="#3c2f66" fill-opacity="0.85"/><rect x="962.1" y="447.8" width="7.2" height="7.2" fill="#3c2f66" fill-opacity="0.85"/><rect x="1037.1" y="444.9" width="7.2" height="7.2" fill="#3c2f66" fill-opacity="0.85"/><rect x="1100.8" y="447.9" width="7.2" height="7.2" fill="#3c2f66" fill-opacity="0.85"/><rect x="1100.7" y="493.8" width="7.2" height="7.2" fill="#3c2f66" fill-opacity="0.85"/><rect x="1102.9" y="449.0" width="7.2" height="7.2" fill="#3c2f66" fill-opacity="0.85"/><rect x="1200.2" y="445.1" width="7.2" height="7.2" fill="#3c2f66" fill-opacity="0.85"/><rect x="1202.7" y="446.1" width="7.2" height="7.2" fill="#3c2f66" fill-opacity="0.85"/><rect x="1212.0" y="444.2" width="7.2" height="7.2" fill="#3c2f66" fill-opacity="0.85"/><rect x="1215.2" y="445.6" width="7.2" height="7.2" fill="#3c2f66" fill-opacity="0.85"/></svg>
<div class="t" style="left:559.3px;width:30px;text-align:right;top:570.9px;font-size:9px;color:#555">0</div>
<div class="t" style="left:559.3px;width:30px;text-align:right;top:517.7px;font-size:9px;color:#555">10</div>
<div class="t" style="left:559.3px;width:30px;text-align:right;top:464.4px;font-size:9px;color:#555">20</div>
<div class="t" style="left:559.3px;width:30px;text-align:right;top:411.2px;font-size:9px;color:#555">30</div>
<div class="t" style="left:559.3px;width:30px;text-align:right;top:363.3px;font-size:9px;color:#555">39</div>
<div class="t" style="left:644.0px;width:40px;text-align:center;top:581px;font-size:9px;color:#555">15</div>
<div class="t" style="left:732.2px;width:40px;text-align:center;top:581px;font-size:9px;color:#555">22</div>
<div class="t" style="left:820.4px;width:40px;text-align:center;top:581px;font-size:9px;color:#555">29</div>
<div class="t" style="left:858.2px;width:40px;text-align:center;top:581px;font-size:9px;font-weight:700;color:#555">Nov</div>
<div class="t" style="left:946.4px;width:40px;text-align:center;top:581px;font-size:9px;color:#555">8</div>
<div class="t" style="left:1034.6px;width:40px;text-align:center;top:581px;font-size:9px;color:#555">15</div>
<div class="t" style="left:1122.8px;width:40px;text-align:center;top:581px;font-size:9px;color:#555">22</div>
<div class="t" style="left:888.4px;top:379.5px;font-size:17px;font-weight:700;color:#111;transform:scaleX(0.94);transform-origin:0 0">iRT</div>
<svg class="a" style="left:0;top:600px" width="600" height="198" viewBox="0 600 600 198"><line x1="52.5" x2="585.8" y1="648.5" y2="648.5" stroke="#e3e4e8" stroke-width="1"/><line x1="52.5" x2="585.8" y1="661.3" y2="661.3" stroke="#e3e4e8" stroke-width="1"/><line x1="52.5" x2="585.8" y1="674.8" y2="674.8" stroke="#e3e4e8" stroke-width="1"/><line x1="52.5" x2="585.8" y1="688.4" y2="688.4" stroke="#e3e4e8" stroke-width="1"/><line x1="52.5" x2="585.8" y1="702.1" y2="702.1" stroke="#e3e4e8" stroke-width="1"/><line x1="52.5" x2="585.8" y1="715.7" y2="715.7" stroke="#e3e4e8" stroke-width="1"/><line x1="52.5" x2="585.8" y1="729.2" y2="729.2" stroke="#e3e4e8" stroke-width="1"/><line x1="52.5" x2="585.8" y1="733" y2="733" stroke="#9c9c9c" stroke-width="1.5"/><line x1="156.5" x2="156.5" y1="733" y2="736" stroke="#888" stroke-width="1"/><line x1="278.75" x2="278.75" y1="733" y2="736" stroke="#888" stroke-width="1"/><line x1="400" x2="400" y1="733" y2="736" stroke="#888" stroke-width="1"/><line x1="510" x2="510" y1="733" y2="736" stroke="#888" stroke-width="1"/><path d="M54.3 725.0 L70.4 723.5" fill="none" stroke="#0b7f79" stroke-width="7" stroke-linecap="round" stroke-linejoin="round"/><path d="M79.6 723.1 L96.6 722.5" fill="none" stroke="#0b7f79" stroke-width="7" stroke-linecap="round" stroke-linejoin="round"/><path d="M104.8 722.2 L127.5 721.4 L149.4 719.4 L182.2 717.7 L232.5 714.6 L241.3 712.0 L250 708.2 L258.8 705.3" fill="none" stroke="#0b7f79" stroke-width="7" stroke-linecap="round" stroke-linejoin="round"/><path d="M271.8 704.6 L280.6 700.8 L286.2 700.6" fill="none" stroke="#0b7f79" stroke-width="7" stroke-linecap="round" stroke-linejoin="round"/><path d="M300.2 700.6 L304.7 699.3 L323.4 688.6 L347.5 679.6" fill="none" stroke="#0b7f79" stroke-width="7" stroke-linecap="round" stroke-linejoin="round"/><path d="M352.5 680.4 L365.6 674.6 L389 674.2 L400.8 668.8 L440.6 666.5 L487.5 663.4 L534.4 659.9 L566.2 657.3" fill="none" stroke="#0b7f79" stroke-width="7" stroke-linecap="round" stroke-linejoin="round"/><path d="M574.8 657.0 L578.2 654.8" fill="none" stroke="#0b7f79" stroke-width="7" stroke-linecap="round" stroke-linejoin="round"/><rect x="54.3" y="754" width="533.2" height="18.8" fill="#fff" stroke="#dde3ef" stroke-width="1" rx="2"/><path d="M432.5 760 L587 759 V772.3 H432.5Z" fill="#f2f4fa"/><rect x="54.3" y="750.2" width="378.2" height="4.2" fill="#d5dcef"/><rect x="54.3" y="754.4" width="378.2" height="18.4" fill="#e5ebfb"/><path d="M54.3 768.8 L432.5 760 V772.8 H54.3Z" fill="#d4def9"/><path d="M54.3 768.8 L432.5 760" stroke="#b8c6ef" stroke-width="0.8" fill="none"/><line x1="54.7" x2="54.7" y1="753" y2="773" stroke="#a9b3c7" stroke-width="0.8"/><rect x="52.7" y="757.2" width="4" height="11.7" rx="1.5" fill="#fff" stroke="#a9b3c7" stroke-width="0.8"/><line x1="432.5" x2="432.5" y1="753" y2="773" stroke="#a9b3c7" stroke-width="0.8"/><rect x="430.5" y="757.2" width="4" height="11.7" rx="1.5" fill="#fff" stroke="#a9b3c7" stroke-width="0.8"/></svg>
<div class="t" style="left:40px;top:630.5px;font-size:8px;color:#555">counts</div>
<div class="t" style="left:80.5px;top:640px;font-size:17.8px;font-weight:700;color:#111">Valve shifts</div>
<div class="t" style="left:7px;width:40.5px;text-align:right;top:644.0px;font-size:8.4px;color:#3a3a3a">39,677</div>
<div class="t" style="left:7px;width:40.5px;text-align:right;top:656.8px;font-size:8.4px;color:#3a3a3a">35,000</div>
<div class="t" style="left:7px;width:40.5px;text-align:right;top:670.3px;font-size:8.4px;color:#3a3a3a">30,000</div>
<div class="t" style="left:7px;width:40.5px;text-align:right;top:683.9px;font-size:8.4px;color:#3a3a3a">25,000</div>
<div class="t" style="left:7px;width:40.5px;text-align:right;top:697.6px;font-size:8.4px;color:#3a3a3a">20,000</div>
<div class="t" style="left:7px;width:40.5px;text-align:right;top:711.2px;font-size:8.4px;color:#3a3a3a">15,000</div>
<div class="t" style="left:7px;width:40.5px;text-align:right;top:724.7px;font-size:8.4px;color:#3a3a3a">10,000</div>
<div class="t" style="left:136.5px;width:40px;text-align:center;top:737px;font-size:8.6px;color:#444">Dec</div>
<div class="t" style="left:258.75px;width:40px;text-align:center;top:737px;font-size:8.6px;font-weight:700;color:#444">2025</div>
<div class="t" style="left:380px;width:40px;text-align:center;top:737px;font-size:8.6px;color:#444">Feb</div>
<div class="t" style="left:490px;width:40px;text-align:center;top:737px;font-size:8.6px;color:#444">Mar</div>
<svg class="a" style="left:600px;top:600px" width="680" height="198" viewBox="600 600 680 198"><line x1="649.3" x2="1256" y1="633.7" y2="633.7" stroke="#e0e3ea" stroke-width="1"/><line x1="649.3" x2="1256" y1="640.3" y2="640.3" stroke="#e0e3ea" stroke-width="1"/><line x1="649.3" x2="1256" y1="658.0" y2="658.0" stroke="#e0e3ea" stroke-width="1"/><line x1="649.3" x2="1256" y1="676.2" y2="676.2" stroke="#e0e3ea" stroke-width="1"/><line x1="649.3" x2="1256" y1="694.2" y2="694.2" stroke="#e0e3ea" stroke-width="1"/><line x1="649.3" x2="1256" y1="728.0" y2="728.0" stroke="#e0e3ea" stroke-width="1"/><line x1="649.3" x2="1256" y1="712" y2="712" stroke="#777" stroke-width="1.4"/><line x1="665.2" x2="665.2" y1="711.8" y2="715.5" stroke="#6e7079" stroke-width="1"/><line x1="724.2" x2="724.2" y1="711.8" y2="715.5" stroke="#6e7079" stroke-width="1"/><line x1="784" x2="784" y1="711.8" y2="715.5" stroke="#6e7079" stroke-width="1"/><line x1="842.4" x2="842.4" y1="711.8" y2="715.5" stroke="#6e7079" stroke-width="1"/><line x1="901.4" x2="901.4" y1="711.8" y2="715.5" stroke="#6e7079" stroke-width="1"/><line x1="926.9" x2="926.9" y1="711.8" y2="715.5" stroke="#6e7079" stroke-width="1"/><line x1="985.7" x2="985.7" y1="711.8" y2="715.5" stroke="#6e7079" stroke-width="1"/><line x1="1044.9" x2="1044.9" y1="711.8" y2="715.5" stroke="#6e7079" stroke-width="1"/><line x1="1103.9" x2="1103.9" y1="711.8" y2="715.5" stroke="#6e7079" stroke-width="1"/><line x1="1163.1" x2="1163.1" y1="711.8" y2="715.5" stroke="#6e7079" stroke-width="1"/><line x1="1222" x2="1222" y1="711.8" y2="715.5" stroke="#6e7079" stroke-width="1"/><path d="M652 696.3 L673.4 696.3" fill="none" stroke="#4caf14" stroke-width="7.5" stroke-linecap="round" stroke-linejoin="round"/><path d="M685.7 696.3 L685.8 696.3" fill="none" stroke="#4caf14" stroke-width="7.8" stroke-linecap="round" stroke-linejoin="round"/><path d="M711 696.3 L711.1 696.3" fill="none" stroke="#4caf14" stroke-width="7.8" stroke-linecap="round" stroke-linejoin="round"/><path d="M719.2 695.8 L760 695.3 L800 695.6 L817.3 695.8" fill="none" stroke="#4caf14" stroke-width="7.5" stroke-linecap="round" stroke-linejoin="round"/><path d="M827.8 695.8 L827.9 695.8" fill="none" stroke="#4caf14" stroke-width="7.8" stroke-linecap="round" stroke-linejoin="round"/><path d="M829 689.5 L900 689.4 L953 689.4 L978 689.5" fill="none" stroke="#4caf14" stroke-width="7.8" stroke-linecap="round" stroke-linejoin="round"/><path d="M982 690.9 L990 691.3" fill="none" stroke="#4caf14" stroke-width="7.6" stroke-linecap="round" stroke-linejoin="round"/><path d="M1002 691.2 L1135 691.2" fill="none" stroke="#4caf14" stroke-width="7.6" stroke-linecap="round" stroke-linejoin="round"/><path d="M1140 693.3 L1254 693.5" fill="none" stroke="#4caf14" stroke-width="7.6" stroke-linecap="round" stroke-linejoin="round"/><circle cx="997.6" cy="691" r="3" fill="#7cc24e"/><rect x="651.7" y="751.7" width="606.5" height="20.8" fill="#fff" stroke="#dde3ef" stroke-width="1" rx="2"/><rect x="652.2" y="765" width="605.5" height="7" fill="#f2f4fa"/><rect x="972" y="747.2" width="151.4" height="4.1" fill="#d5dcef"/><rect x="972" y="751.3" width="151.4" height="21.5" fill="#e5ebfb"/><rect x="972" y="764.2" width="151.4" height="8.6" fill="#d4def9"/><line x1="972" x2="1123.4" y1="764.2" y2="764.2" stroke="#b8c6ef" stroke-width="0.8"/><line x1="972" x2="972" y1="750" y2="773" stroke="#a9b3c7" stroke-width="0.8"/><rect x="969.7" y="755.5" width="4.6" height="13.6" rx="1.5" fill="#fff" stroke="#a9b3c7" stroke-width="0.8"/><line x1="1123.4" x2="1123.4" y1="750" y2="773" stroke="#a9b3c7" stroke-width="0.8"/><rect x="1121.1000000000001" y="755.5" width="4.6" height="13.6" rx="1.5" fill="#fff" stroke="#a9b3c7" stroke-width="0.8"/></svg>
<div class="t" style="left:635.5px;top:612.5px;font-size:10px;color:#555">µl/min</div>
<div class="t" style="left:678.5px;top:636.5px;font-size:18px;font-weight:700;color:#111">Leak test pump A</div>
<div class="t" style="left:600px;width:43.7px;text-align:right;top:635.3px;font-size:8.8px;color:#3a3a3a">0.4</div>
<div class="t" style="left:600px;width:43.7px;text-align:right;top:653px;font-size:8.8px;color:#3a3a3a">0.3</div>
<div class="t" style="left:600px;width:43.7px;text-align:right;top:671.2px;font-size:8.8px;color:#3a3a3a">0.2</div>
<div class="t" style="left:600px;width:43.7px;text-align:right;top:689.2px;font-size:8.8px;color:#3a3a3a">0.1</div>
<div class="t" style="left:600px;width:43.7px;text-align:right;top:706.8px;font-size:8.8px;color:#3a3a3a">0</div>
<div class="t" style="left:600px;width:43.7px;text-align:right;top:723px;font-size:8.8px;color:#3a3a3a">-0.09</div>
<div class="t" style="left:645.2px;width:40px;text-align:center;top:733.2px;font-size:9px;font-weight:700;color:#444">2025</div>
<div class="t" style="left:704.2px;width:40px;text-align:center;top:733.2px;font-size:9px;color:#444">8</div>
<div class="t" style="left:764px;width:40px;text-align:center;top:733.2px;font-size:9px;color:#444">15</div>
<div class="t" style="left:822.4px;width:40px;text-align:center;top:733.2px;font-size:9px;color:#444">22</div>
<div class="t" style="left:881.4px;width:40px;text-align:center;top:733.2px;font-size:9px;color:#444">29</div>
<div class="t" style="left:906.9px;width:40px;text-align:center;top:733.2px;font-size:9px;font-weight:700;color:#444">Feb</div>
<div class="t" style="left:965.7px;width:40px;text-align:center;top:733.2px;font-size:9px;color:#444">8</div>
<div class="t" style="left:1024.9px;width:40px;text-align:center;top:733.2px;font-size:9px;color:#444">15</div>
<div class="t" style="left:1083.9px;width:40px;text-align:center;top:733.2px;font-size:9px;color:#444">22</div>
<div class="t" style="left:1143.1px;width:40px;text-align:center;top:733.2px;font-size:9px;font-weight:700;color:#444">Mar</div>
<div class="t" style="left:1202px;width:40px;text-align:center;top:733.2px;font-size:9px;color:#444">8</div>
</body></html>
